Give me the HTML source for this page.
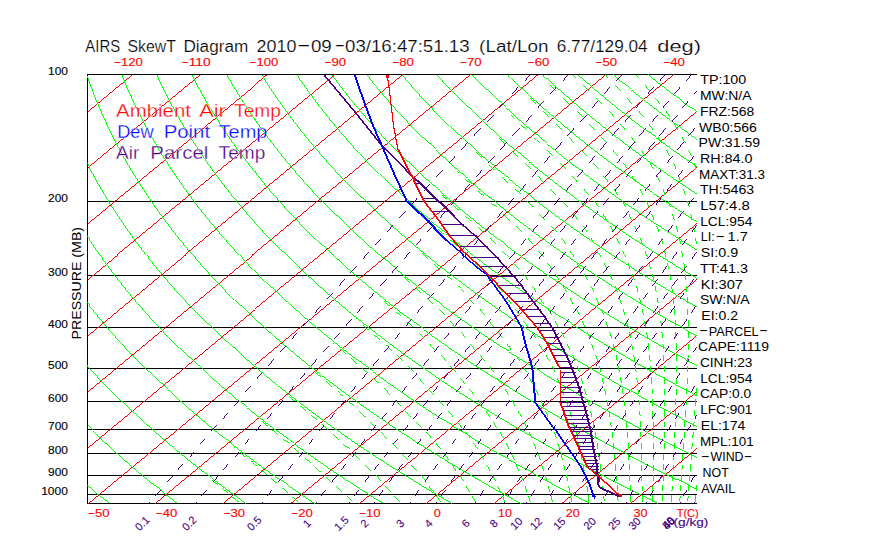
<!DOCTYPE html>
<html><head><meta charset="utf-8"><title>AIRS SkewT Diagram</title>
<style>html,body{margin:0;padding:0;background:#fff}svg{display:block}</style></head><body>

<svg width="870" height="560" viewBox="0 0 870 560">
<rect width="870" height="560" fill="#fff"/>
<g transform="translate(0.5,0.5)" id="bg">
<g shape-rendering="crispEdges" fill="none">
<path stroke="#000000" stroke-width="1" d="M86.5 201 H696.5 M86.5 275 H696.5 M86.5 327 H696.5 M86.5 368 H696.5 M86.5 401 H696.5 M86.5 429 H696.5 M86.5 453 H696.5 M86.5 475 H696.5 M86.5 494 H696.5 M86.5 74 H696.5 M86.5 503 H696.5 M87 73.5 V503.5"/>
<path stroke="#ff0000" stroke-width="0.78" d="M87.0 110.7 L131.3 74.0 M87.0 166.7 L199.1 74.0 M87.0 222.8 L266.8 74.0 M87.0 278.8 L334.6 74.0 M87.0 334.9 L402.3 74.0 M87.0 390.9 L470.1 74.0 M87.0 447.0 L537.8 74.0 M87.0 503.0 L605.6 74.0 M154.8 503.0 L673.3 74.0 M222.5 503.0 L696.4 111.0 M290.2 503.0 L696.4 167.0 M358.0 503.0 L696.4 223.1 M425.8 503.0 L696.4 279.1 M493.5 503.0 L696.4 335.1 M561.2 503.0 L696.4 391.2 M629.0 503.0 L696.4 447.2"/>
<path stroke="#00ff00" stroke-width="0.72" d="M121.9 401.0 L115.9 395.0 L109.9 389.0 M154.8 377.0 L148.6 371.0 L142.7 365.0 M185.3 353.0 L179.2 347.0 L173.2 341.0 L167.3 335.0 M213.9 329.0 L207.8 323.0 L201.8 317.0 L195.9 311.0 M240.5 305.0 L234.4 299.0 L228.4 293.0 M265.3 281.0 L259.3 275.0 L253.3 269.0 M294.7 263.0 L288.6 257.0 L282.5 251.0 L276.7 245.0 M316.3 239.0 L310.3 233.0 L304.3 227.0 M342.6 221.0 L336.5 215.0 L330.6 209.0 M367.6 203.0 L361.5 197.0 L355.5 191.0 L349.6 185.0 M385.2 179.0 L379.1 173.0 L373.2 167.0 M407.6 161.0 L401.6 155.0 L395.7 149.0 M429.0 143.0 L422.9 137.0 L417.0 131.0 M449.2 125.0 L443.2 119.0 L437.3 113.0 M474.6 113.0 L468.5 107.0 L462.5 101.0 L456.6 95.0 M492.8 95.0 L486.7 89.0 L480.8 83.0 M580.6 77.0 L577.6 74.0 M378.0 477.5 L375.0 474.5 M370.5 470.0 L367.4 467.0 M349.1 449.5 L346.0 446.5 M394.1 445.5 L391.1 442.5 M386.6 438.0 L383.6 435.0 M372.6 424.0 L369.6 421.0 M408.2 413.0 L405.3 410.0 M390.0 394.0 L387.0 391.0 M413.4 371.5 L410.4 368.5 L407.4 365.5 M432.4 346.0 L429.5 343.0 M444.2 314.5 L441.1 311.5 M463.1 291.5 L460.1 288.5 M480.4 268.0 L477.4 265.0 M521.3 231.5 L518.3 228.5 L515.2 225.5 M533.0 206.5 L529.9 203.5 L526.9 200.5 M553.2 191.0 L550.2 188.0 M543.2 181.0 L540.2 178.0 L537.6 175.5 M562.7 165.5 L559.7 162.5 M552.7 155.5 L549.7 152.5 L546.7 149.5 M526.8 130.0 L523.7 127.0 L520.7 124.0 M513.6 117.0 L510.6 114.0 M573.9 142.5 L571.0 139.5 L568.0 136.5 M561.2 129.5 L558.2 126.5 L555.3 123.5 M548.3 116.5 L545.3 113.5 L542.3 110.5 M535.3 103.5 L532.3 100.5 L529.3 97.5 M568.9 103.0 L565.9 100.0 L563.0 97.0 M556.0 90.0 L553.0 87.0 L550.0 84.0 M576.4 77.0 L573.4 74.0"/>
<path stroke="#00ff00" stroke-width="0.75" d="M118.7 455.0 L112.1 449.0 L105.5 443.0 L99.1 437.0 L92.9 431.0 L87.0 425.3 M147.5 425.0 L140.9 419.0 L134.5 413.0 L128.1 407.0 L121.9 401.0 M109.9 389.0 L104.1 383.0 L98.4 377.0 L92.8 371.0 L87.3 365.0 M180.5 401.0 L173.9 395.0 L167.4 389.0 L161.0 383.0 L154.8 377.0 M142.7 365.0 L136.8 359.0 L131.0 353.0 L125.4 347.0 L119.9 341.0 L114.6 335.0 M211.1 377.0 L204.5 371.0 L198.0 365.0 L191.6 359.0 L185.3 353.0 M167.3 335.0 L161.6 329.0 L156.0 323.0 L150.4 317.0 L145.0 311.0 M239.6 353.0 L233.0 347.0 L226.5 341.0 L220.1 335.0 L213.9 329.0 M195.9 311.0 L190.1 305.0 L184.5 299.0 L179.0 293.0 L173.6 287.0 M266.2 329.0 L259.6 323.0 L253.1 317.0 L246.7 311.0 L240.5 305.0 M228.4 293.0 L222.6 287.0 L216.8 281.0 L211.2 275.0 L205.7 269.0 M290.9 305.0 L284.3 299.0 L277.8 293.0 L271.5 287.0 L265.3 281.0 M253.3 269.0 L247.5 263.0 L241.8 257.0 L236.3 251.0 L230.8 245.0 M320.5 287.0 L313.8 281.0 L307.3 275.0 L300.9 269.0 L294.7 263.0 M276.7 245.0 L270.9 239.0 L265.3 233.0 L259.7 227.0 L254.4 221.0 M341.8 263.0 L335.3 257.0 L328.8 251.0 L322.5 245.0 L316.3 239.0 M304.3 227.0 L298.5 221.0 L292.8 215.0 L287.2 209.0 L281.8 203.0 M368.3 245.0 L361.7 239.0 L355.2 233.0 L348.9 227.0 L342.6 221.0 M330.6 209.0 L324.7 203.0 L319.0 197.0 L313.4 191.0 L307.9 185.0 L302.5 179.0 M393.4 227.0 L386.8 221.0 L380.3 215.0 L373.9 209.0 L367.6 203.0 M349.6 185.0 L343.8 179.0 L338.2 173.0 L332.7 167.0 L327.3 161.0 M417.2 209.0 L410.5 203.0 L404.0 197.0 L397.6 191.0 L391.3 185.0 L385.2 179.0 M373.2 167.0 L367.4 161.0 L361.8 155.0 L356.2 149.0 L350.8 143.0 M439.7 191.0 L433.0 185.0 L426.5 179.0 L420.1 173.0 L413.8 167.0 L407.6 161.0 M395.7 149.0 L389.9 143.0 L384.2 137.0 L378.7 131.0 L373.3 125.0 M461.0 173.0 L454.4 167.0 L447.8 161.0 L441.4 155.0 L435.1 149.0 L429.0 143.0 M417.0 131.0 L411.2 125.0 L405.6 119.0 L400.0 113.0 L394.6 107.0 M481.2 155.0 L474.6 149.0 L468.0 143.0 L461.6 137.0 L455.4 131.0 L449.2 125.0 M437.3 113.0 L431.5 107.0 L425.9 101.0 L420.4 95.0 L415.0 89.0 M500.3 137.0 L493.7 131.0 L487.2 125.0 L480.8 119.0 L474.6 113.0 M456.6 95.0 L450.8 89.0 L445.2 83.0 L439.7 77.0 M518.4 119.0 L511.8 113.0 L505.4 107.0 L499.0 101.0 L492.8 95.0 M480.8 83.0 L474.9 77.0 M542.3 107.0 L535.6 101.0 L529.1 95.0 L522.6 89.0 L516.3 83.0 L510.2 77.0 L507.5 74.0 M558.5 89.0 L551.9 83.0 L545.4 77.0 L542.5 74.0 M615.8 77.0 L612.7 74.0 M651.1 77.0 L647.7 74.0 M294.2 498.5 L291.4 496.0 M351.8 501.0 L348.7 498.0 L346.1 495.5 M341.8 491.5 L338.6 488.5 L335.9 486.0 M331.5 482.0 L328.2 479.0 M320.6 472.0 L317.4 469.0 L314.7 466.5 M310.3 462.5 L306.9 459.5 M390.8 491.0 L388.0 488.0 L385.2 485.0 M380.9 480.5 L378.0 477.5 M367.4 467.0 L364.3 464.0 M359.6 459.5 L356.4 456.5 L353.7 454.0 M346.0 446.5 L342.9 443.5 M338.1 439.0 L334.9 436.0 L332.1 433.5 M407.3 459.5 L404.5 456.5 L401.7 453.5 M397.0 448.5 L394.1 445.5 M383.6 435.0 L380.5 432.0 M375.5 427.0 L372.6 424.0 M365.0 416.5 L361.9 413.5 L358.7 410.5 M353.8 406.0 L350.5 403.0 L347.8 400.5 M421.6 427.0 L418.8 424.0 L416.0 421.0 M411.2 416.0 L408.2 413.0 M400.6 405.0 L397.8 402.0 L394.9 399.0 M387.0 391.0 L383.9 388.0 M378.6 383.0 L375.4 380.0 L372.7 377.5 M367.8 373.0 L364.4 370.0 M441.4 402.0 L438.7 399.0 M434.1 394.0 L431.3 391.0 L428.4 388.0 M424.1 383.0 L421.4 380.0 L418.6 377.0 M402.3 360.5 L399.2 357.5 L396.5 355.0 M391.1 350.0 L387.8 347.0 L385.0 344.5 M455.0 371.5 L452.3 368.5 M443.1 357.5 L440.4 354.5 M435.3 349.0 L432.4 346.0 M423.9 337.5 L420.8 334.5 L418.2 332.0 M412.9 327.0 L409.6 324.0 L406.4 321.0 M400.8 316.0 L397.5 313.0 M455.4 326.0 L452.5 323.0 L449.6 320.0 M441.1 311.5 L438.5 309.0 M432.7 303.5 L429.5 300.5 L426.8 298.0 M420.8 292.5 L417.5 289.5 L415.2 287.5 M474.2 303.0 L471.4 300.0 L468.5 297.0 M460.1 288.5 L457.0 285.5 M451.2 280.0 L448.0 277.0 L445.3 274.5 M439.4 269.0 L436.1 266.0 L433.3 263.5 M427.8 258.5 L424.4 255.5 M491.5 279.5 L488.7 276.5 L485.8 273.5 M477.4 265.0 L474.3 262.0 M468.0 256.0 L464.8 253.0 L462.1 250.5 M431.7 223.5 L428.4 220.5 M507.7 256.0 L504.9 253.0 L502.0 250.0 M495.9 244.0 L492.7 241.0 L489.5 238.0 M483.6 232.5 L480.3 229.5 L477.5 227.0 M470.9 221.0 L467.6 218.0 M458.7 210.0 L455.3 207.0 L452.6 204.5 M446.0 198.5 L442.8 195.5 L441.7 194.5 M532.7 243.5 L529.9 240.5 L527.1 237.5 M509.0 219.5 L505.8 216.5 L502.6 213.5 M496.2 207.5 L493.0 204.5 L490.3 202.0 M483.7 196.0 L480.4 193.0 L477.7 190.5 M471.2 184.5 L468.0 181.5 L464.7 178.5 M458.4 172.5 L456.8 171.0 M545.1 219.0 L542.3 216.0 L539.4 213.0 M520.1 194.0 L517.0 191.0 L514.3 188.5 M507.4 182.0 L504.2 179.0 L501.5 176.5 M494.6 170.0 L491.4 167.0 L488.8 164.5 M481.9 158.0 L478.8 155.0 L475.6 152.0 M564.9 203.5 L562.1 200.5 M556.1 194.0 L553.2 191.0 M530.4 168.5 L527.3 165.5 L524.7 163.0 M517.9 156.5 L514.7 153.5 L511.6 150.5 M504.8 144.0 L501.7 141.0 L498.6 138.0 M577.4 181.0 L574.6 178.0 L571.8 175.0 M565.6 168.5 L562.7 165.5 M539.5 142.5 L536.4 139.5 L533.9 137.0 M586.3 155.5 L583.5 152.5 L580.7 149.5 M606.0 142.5 L603.3 139.5 L600.5 136.5 M594.2 129.5 L591.5 126.5 L588.7 123.5 M582.0 116.5 L579.1 113.5 L576.2 110.5 M611.1 113.5 L608.4 110.5 M601.5 103.0 L598.6 100.0 L595.8 97.0 M589.1 90.0 L586.2 87.0 L583.2 84.0 M620.5 90.0 L617.7 87.0 L615.0 84.0 M608.4 77.0 L605.5 74.0"/>
<path stroke="#00ff00" stroke-width="0.78" d="M108.1 503.0 L101.0 497.0 L94.1 491.0 L87.2 485.0 L87.0 484.8 M154.0 485.0 L146.7 479.0 L139.5 473.0 L132.4 467.0 L125.5 461.0 L118.7 455.0 M182.4 455.0 L175.2 449.0 L168.1 443.0 L161.1 437.0 L154.2 431.0 L147.5 425.0 M87.3 365.0 L87.0 364.6 M215.6 431.0 L208.3 425.0 L201.1 419.0 L194.1 413.0 L187.2 407.0 L180.5 401.0 M114.6 335.0 L109.3 329.0 L104.1 323.0 L99.1 317.0 L94.2 311.0 M246.3 407.0 L239.0 401.0 L231.8 395.0 L224.8 389.0 L217.9 383.0 L211.1 377.0 M145.0 311.0 L139.8 305.0 L134.6 299.0 L129.6 293.0 L124.6 287.0 M274.8 383.0 L267.5 377.0 L260.3 371.0 L253.3 365.0 L246.4 359.0 L239.6 353.0 M173.6 287.0 L168.3 281.0 L163.2 275.0 L158.1 269.0 L153.2 263.0 M301.2 359.0 L293.9 353.0 L286.8 347.0 L279.8 341.0 L272.9 335.0 L266.2 329.0 M205.7 269.0 L200.4 263.0 L195.1 257.0 L190.0 251.0 L185.0 245.0 L180.1 239.0 M325.7 335.0 L318.5 329.0 L311.4 323.0 L304.4 317.0 L297.6 311.0 L290.9 305.0 M230.8 245.0 L225.5 239.0 L220.3 233.0 L215.2 227.0 L210.2 221.0 M355.7 317.0 L348.4 311.0 L341.2 305.0 L334.2 299.0 L327.3 293.0 L320.5 287.0 M254.4 221.0 L249.1 215.0 L243.9 209.0 L238.9 203.0 L233.9 197.0 M376.7 293.0 L369.5 287.0 L362.3 281.0 L355.4 275.0 L348.5 269.0 L341.8 263.0 M281.8 203.0 L276.5 197.0 L271.2 191.0 L266.1 185.0 L261.2 179.0 M403.4 275.0 L396.1 269.0 L389.0 263.0 L382.0 257.0 L375.1 251.0 L368.3 245.0 M302.5 179.0 L297.2 173.0 L292.1 167.0 L287.1 161.0 L282.2 155.0 M428.7 257.0 L421.4 251.0 L414.2 245.0 L407.1 239.0 L400.2 233.0 L393.4 227.0 M327.3 161.0 L322.0 155.0 L316.8 149.0 L311.8 143.0 L306.8 137.0 M452.5 239.0 L445.2 233.0 L438.0 227.0 L430.9 221.0 L424.0 215.0 L417.2 209.0 M350.8 143.0 L345.5 137.0 L340.3 131.0 L335.3 125.0 L330.3 119.0 M475.1 221.0 L467.7 215.0 L460.5 209.0 L453.5 203.0 L446.5 197.0 L439.7 191.0 M373.3 125.0 L368.0 119.0 L362.8 113.0 L357.7 107.0 L352.7 101.0 M496.4 203.0 L489.0 197.0 L481.8 191.0 L474.8 185.0 L467.8 179.0 L461.0 173.0 M394.6 107.0 L389.3 101.0 L384.1 95.0 L379.1 89.0 L374.1 83.0 M516.5 185.0 L509.2 179.0 L502.0 173.0 L494.9 167.0 L488.0 161.0 L481.2 155.0 M415.0 89.0 L409.7 83.0 L404.5 77.0 M535.5 167.0 L528.2 161.0 L521.0 155.0 L514.0 149.0 L507.1 143.0 L500.3 137.0 M553.4 149.0 L546.2 143.0 L539.0 137.0 L532.0 131.0 L525.2 125.0 L518.4 119.0 M474.9 77.0 L472.4 74.0 M577.7 137.0 L570.4 131.0 L563.2 125.0 L556.1 119.0 L549.1 113.0 L542.3 107.0 M593.7 119.0 L586.4 113.0 L579.2 107.0 L572.2 101.0 L565.3 95.0 L558.5 89.0 M608.8 101.0 L601.5 95.0 L594.4 89.0 L587.5 83.0 L580.6 77.0 M630.3 89.0 L623.0 83.0 L615.8 77.0 M238.0 501.5 L234.3 498.5 L231.9 496.5 M227.6 493.0 L224.0 490.0 L221.5 488.0 M217.3 484.5 L213.6 481.5 L211.2 479.5 M206.9 476.0 L206.3 475.5 M297.6 501.5 L294.2 498.5 M287.0 492.0 L283.6 489.0 L281.3 487.0 M276.7 483.0 L273.2 480.0 L270.9 478.0 M266.2 474.0 L262.6 471.0 L260.2 469.0 M256.0 465.5 L252.4 462.5 L250.0 460.5 M245.2 456.5 L241.6 453.5 L239.1 451.5 M234.3 447.5 L233.1 446.5 M328.2 479.0 L325.4 476.5 M306.9 459.5 L304.1 457.0 M299.5 453.0 L296.1 450.0 L293.2 447.5 M288.5 443.5 L285.0 440.5 L282.6 438.5 M277.9 434.5 L274.3 431.5 L271.9 429.5 M267.1 425.5 L263.6 422.5 L261.2 420.5 M399.6 501.0 L397.0 498.0 L394.4 495.0 M327.1 429.0 L323.8 426.0 L321.5 424.0 M316.3 419.5 L312.9 416.5 L310.5 414.5 M305.3 410.0 L301.8 407.0 L299.4 405.0 M294.7 401.0 L291.2 398.0 L288.8 396.0 M422.8 477.5 L420.3 474.5 M416.5 470.0 L413.9 467.0 L411.3 464.0 M342.7 396.0 L339.3 393.0 L337.0 391.0 M331.8 386.5 L328.4 383.5 L325.5 381.0 M320.2 376.5 L316.7 373.5 L314.4 371.5 M309.1 367.0 L308.6 366.5 M437.6 445.5 L435.1 442.5 M430.9 437.5 L428.3 434.5 L425.6 431.5 M364.4 370.0 L361.6 367.5 M356.5 363.0 L353.1 360.0 L350.2 357.5 M345.0 353.0 L341.6 350.0 L339.3 348.0 M333.5 343.0 L332.3 342.0 M453.3 416.0 L450.8 413.0 L448.3 410.0 M444.0 405.0 L441.4 402.0 M379.5 339.5 L376.1 336.5 L373.8 334.5 M368.1 329.5 L364.7 326.5 L362.4 324.5 M356.7 319.5 L355.0 318.0 M465.0 383.0 L462.5 380.0 L459.9 377.0 M445.7 360.5 L443.1 357.5 M397.5 313.0 L395.3 311.0 M389.6 306.0 L386.2 303.0 L383.4 300.5 M377.7 295.5 L377.2 295.0 M484.4 360.5 L481.9 357.5 L479.4 354.5 M465.6 337.5 L463.0 334.5 L460.4 331.5 M409.1 282.0 L405.7 279.0 L403.5 277.0 M484.4 314.5 L481.8 311.5 L479.2 308.5 M424.4 255.5 L421.6 253.0 M502.1 291.5 L499.6 288.5 L496.9 285.5 M456.0 245.0 L452.7 242.0 L449.9 239.5 M443.6 234.0 L440.2 231.0 L437.9 229.0 M518.4 268.0 L515.8 265.0 L513.2 262.0 M467.6 218.0 L464.8 215.5 M556.2 231.5 L553.7 228.5 L551.0 225.5 M567.5 206.5 L564.9 203.5 M588.7 194.0 L586.2 191.0 L583.6 188.0 M598.0 168.5 L595.4 165.5 L592.7 162.5 M617.1 155.5 L614.6 152.5 L612.1 149.5 M624.8 129.5 L622.3 126.5 L619.8 123.5 M613.7 116.5 L611.1 113.5 M632.0 103.0 L629.4 100.0 L626.8 97.0 M649.8 90.0 L647.3 87.0 L644.8 84.0 M638.7 77.0 L636.0 74.0"/>
<path stroke="#00ff00" stroke-width="0.81" d="M176.8 503.0 L169.1 497.0 L161.5 491.0 L154.0 485.0 M228.9 491.0 L220.8 485.0 L212.8 479.0 L205.0 473.0 L197.4 467.0 L189.8 461.0 L182.4 455.0 M262.3 467.0 L254.1 461.0 L246.2 455.0 L238.3 449.0 L230.6 443.0 L223.0 437.0 L215.6 431.0 M94.2 311.0 L89.4 305.0 L87.0 301.9 M285.0 437.0 L277.0 431.0 L269.1 425.0 L261.4 419.0 L253.8 413.0 L246.3 407.0 M124.6 287.0 L119.8 281.0 L115.1 275.0 L110.6 269.0 L106.1 263.0 M313.4 413.0 L305.4 407.0 L297.6 401.0 L289.8 395.0 L282.3 389.0 L274.8 383.0 M153.2 263.0 L148.4 257.0 L143.7 251.0 L139.1 245.0 L134.7 239.0 M347.8 395.0 L339.7 389.0 L331.7 383.0 L323.9 377.0 L316.2 371.0 L308.6 365.0 L301.2 359.0 M180.1 239.0 L175.3 233.0 L170.6 227.0 L166.1 221.0 L161.6 215.0 M372.1 371.0 L364.0 365.0 L356.0 359.0 L348.2 353.0 L340.6 347.0 L333.1 341.0 L325.7 335.0 M210.2 221.0 L205.3 215.0 L200.6 209.0 L195.9 203.0 L191.4 197.0 M394.4 347.0 L386.4 341.0 L378.5 335.0 L370.8 329.0 L363.2 323.0 L355.7 317.0 M233.9 197.0 L229.1 191.0 L224.4 185.0 L219.8 179.0 L215.3 173.0 M423.1 329.0 L415.0 323.0 L407.0 317.0 L399.2 311.0 L391.6 305.0 L384.1 299.0 L376.7 293.0 M261.2 179.0 L256.3 173.0 L251.5 167.0 L246.9 161.0 L242.4 155.0 M450.1 311.0 L441.9 305.0 L434.0 299.0 L426.1 293.0 L418.4 287.0 L410.9 281.0 L403.4 275.0 M282.2 155.0 L277.4 149.0 L272.7 143.0 L268.1 137.0 L263.7 131.0 M467.4 287.0 L459.4 281.0 L451.5 275.0 L443.7 269.0 L436.1 263.0 L428.7 257.0 M306.8 137.0 L302.0 131.0 L297.3 125.0 L292.7 119.0 L288.2 113.0 M491.3 269.0 L483.3 263.0 L475.4 257.0 L467.6 251.0 L460.0 245.0 L452.5 239.0 M330.3 119.0 L325.5 113.0 L320.8 107.0 L316.2 101.0 L311.7 95.0 M513.9 251.0 L505.9 245.0 L498.0 239.0 L490.2 233.0 L482.6 227.0 L475.1 221.0 M352.7 101.0 L347.9 95.0 L343.2 89.0 L338.5 83.0 L334.0 77.0 M535.2 233.0 L527.1 227.0 L519.2 221.0 L511.5 215.0 L503.9 209.0 L496.4 203.0 M374.1 83.0 L369.3 77.0 M555.2 215.0 L547.2 209.0 L539.3 203.0 L531.6 197.0 L524.0 191.0 L516.5 185.0 M404.5 77.0 L402.3 74.0 M574.1 197.0 L566.1 191.0 L558.2 185.0 L550.5 179.0 L542.9 173.0 L535.5 167.0 M439.7 77.0 L437.3 74.0 M599.9 185.0 L591.8 179.0 L583.9 173.0 L576.0 167.0 L568.4 161.0 L560.8 155.0 L553.4 149.0 M616.6 167.0 L608.5 161.0 L600.6 155.0 L592.9 149.0 L585.2 143.0 L577.7 137.0 M632.3 149.0 L624.3 143.0 L616.4 137.0 L608.7 131.0 L601.1 125.0 L593.7 119.0 M655.1 137.0 L647.0 131.0 L639.1 125.0 L631.3 119.0 L623.7 113.0 L616.1 107.0 L608.8 101.0 M668.9 119.0 L660.9 113.0 L653.1 107.0 L645.3 101.0 L637.8 95.0 L630.3 89.0 M690.0 107.0 L681.9 101.0 L674.0 95.0 L666.2 89.0 L658.6 83.0 L651.1 77.0 M433.3 491.0 L431.0 488.0 L428.7 485.0 M425.2 480.5 L422.8 477.5 M448.5 459.5 L446.3 456.5 L444.0 453.5 M440.0 448.5 L437.6 445.5 M462.0 427.0 L459.7 424.0 L457.3 421.0 M480.0 402.0 L477.8 399.0 M473.9 394.0 L471.6 391.0 L469.2 388.0 M452.3 368.5 L449.9 365.5 M493.0 371.5 L490.7 368.5 L488.4 365.5 M474.8 349.0 L472.5 346.0 L470.1 343.0 M508.8 346.0 L506.5 343.0 M502.2 337.5 L499.8 334.5 L497.4 331.5 M493.5 326.0 L491.2 323.0 L488.9 320.0 M511.1 303.0 L508.9 300.0 L506.6 297.0 M527.5 279.5 L525.3 276.5 L522.9 273.5 M543.0 256.0 L540.7 253.0 L538.3 250.0 M563.4 240.5 L561.1 237.5 M577.9 219.0 L575.5 216.0 L573.1 213.0 M596.1 203.5 L593.9 200.5 M608.2 181.0 L605.9 178.0 L603.4 175.0 M627.1 168.5 L624.9 165.5 L622.6 162.5 M635.2 142.5 L632.8 139.5 L630.4 136.5 M643.0 116.5 L640.6 113.5 L638.2 110.5 M660.0 103.0 L657.7 100.0 L655.4 97.0"/>
<path stroke="#00ff00" stroke-width="0.84" d="M245.5 503.0 L237.1 497.0 L228.9 491.0 M314.2 503.0 L305.2 497.0 L296.3 491.0 L287.6 485.0 L279.0 479.0 L270.6 473.0 L262.3 467.0 M345.2 479.0 L336.1 473.0 L327.2 467.0 L318.5 461.0 L309.9 455.0 L301.4 449.0 L293.1 443.0 L285.0 437.0 M106.1 263.0 L101.7 257.0 L97.5 251.0 L93.3 245.0 L89.3 239.0 M373.6 455.0 L364.5 449.0 L355.6 443.0 L346.9 437.0 L338.3 431.0 L329.9 425.0 L321.6 419.0 L313.4 413.0 M134.7 239.0 L130.3 233.0 L126.1 227.0 L121.9 221.0 L117.9 215.0 M399.7 431.0 L390.7 425.0 L381.8 419.0 L373.1 413.0 L364.5 407.0 L356.1 401.0 L347.8 395.0 M161.6 215.0 L157.3 209.0 L153.0 203.0 L148.9 197.0 L144.9 191.0 M423.6 407.0 L414.6 401.0 L405.8 395.0 L397.2 389.0 L388.6 383.0 L380.3 377.0 L372.1 371.0 M191.4 197.0 L187.0 191.0 L182.7 185.0 L178.5 179.0 L174.4 173.0 L170.4 167.0 M454.6 389.0 L445.6 383.0 L436.7 377.0 L427.9 371.0 L419.3 365.0 L410.9 359.0 L402.5 353.0 L394.4 347.0 M215.3 173.0 L211.0 167.0 L206.7 161.0 L202.6 155.0 L198.5 149.0 M474.6 365.0 L465.7 359.0 L456.8 353.0 L448.2 347.0 L439.7 341.0 L431.3 335.0 L423.1 329.0 M242.4 155.0 L237.9 149.0 L233.6 143.0 L229.4 137.0 L225.3 131.0 L221.3 125.0 M502.0 347.0 L492.9 341.0 L484.1 335.0 L475.3 329.0 L466.8 323.0 L458.4 317.0 L450.1 311.0 M263.7 131.0 L259.3 125.0 L255.1 119.0 L251.0 113.0 L246.9 107.0 M527.6 329.0 L518.6 323.0 L509.7 317.0 L500.9 311.0 L492.3 305.0 L483.9 299.0 L475.5 293.0 L467.4 287.0 M288.2 113.0 L283.9 107.0 L279.6 101.0 L275.4 95.0 L271.4 89.0 M551.8 311.0 L542.7 305.0 L533.7 299.0 L525.0 293.0 L516.3 287.0 L507.9 281.0 L499.5 275.0 L491.3 269.0 M311.7 95.0 L307.3 89.0 L303.0 83.0 L298.8 77.0 M574.4 293.0 L565.3 287.0 L556.4 281.0 L547.6 275.0 L538.9 269.0 L530.5 263.0 L522.1 257.0 L513.9 251.0 M595.6 275.0 L586.5 269.0 L577.6 263.0 L568.8 257.0 L560.2 251.0 L551.7 245.0 L543.4 239.0 L535.2 233.0 M369.3 77.0 L367.2 74.0 M615.5 257.0 L606.5 251.0 L597.5 245.0 L588.8 239.0 L580.2 233.0 L571.7 227.0 L563.4 221.0 L555.2 215.0 M634.2 239.0 L625.2 233.0 L616.3 227.0 L607.5 221.0 L598.9 215.0 L590.5 209.0 L582.2 203.0 L574.1 197.0 M651.7 221.0 L642.7 215.0 L633.8 209.0 L625.1 203.0 L616.6 197.0 L608.2 191.0 L599.9 185.0 M677.2 209.0 L668.1 203.0 L659.1 197.0 L650.3 191.0 L641.7 185.0 L633.2 179.0 L624.8 173.0 L616.6 167.0 M692.4 191.0 L683.4 185.0 L674.5 179.0 L665.8 173.0 L657.2 167.0 L648.7 161.0 L640.4 155.0 L632.3 149.0 M696.4 166.1 L688.9 161.0 L680.2 155.0 L671.7 149.0 L663.4 143.0 L655.1 137.0 M696.4 138.8 L693.8 137.0 L685.4 131.0 L677.1 125.0 L668.9 119.0 M696.4 111.7 L690.0 107.0 M440.5 501.0 L438.4 498.0 L436.2 495.0 M461.1 477.5 L459.1 474.5 M456.1 470.0 L454.0 467.0 L451.8 464.0 M475.0 445.5 L473.0 442.5 M469.6 437.5 L467.5 434.5 L465.3 431.5 M489.8 416.0 L487.8 413.0 L485.7 410.0 M482.2 405.0 L480.0 402.0 M501.2 383.0 L499.2 380.0 L497.0 377.0 M518.9 360.5 L516.9 357.5 L514.9 354.5 M511.0 349.0 L508.8 346.0 M533.5 334.5 L531.5 331.5 M527.7 326.0 L525.5 323.0 L523.3 320.0 M519.1 314.5 L517.1 311.5 L515.1 308.5 M543.5 303.0 L541.4 300.0 L539.2 297.0 M533.9 288.5 L531.9 285.5 M551.5 268.0 L549.5 265.0 L547.4 262.0 M565.5 243.5 L563.4 240.5 M586.8 231.5 L584.8 228.5 L582.7 225.5 M598.3 206.5 L596.1 203.5 M617.6 194.0 L615.6 191.0 L613.5 188.0 M633.7 178.0 L631.7 175.0 M644.7 155.5 L642.6 152.5 L640.5 149.5 M659.5 139.5 L657.4 136.5 M652.6 129.5 L650.5 126.5 L648.3 123.5 M669.5 116.5 L667.5 113.5 L665.4 110.5"/>
<path stroke="#00ff00" stroke-width="0.87" d="M382.9 503.0 L373.2 497.0 L363.7 491.0 L354.4 485.0 L345.2 479.0 M89.3 239.0 L87.0 235.6 M451.6 503.0 L441.3 497.0 L431.1 491.0 L421.1 485.0 L411.3 479.0 L401.6 473.0 L392.1 467.0 L382.8 461.0 L373.6 455.0 M117.9 215.0 L113.9 209.0 L110.1 203.0 L106.4 197.0 L102.8 191.0 L99.2 185.0 M477.5 479.0 L467.2 473.0 L457.1 467.0 L447.1 461.0 L437.3 455.0 L427.7 449.0 L418.2 443.0 L408.9 437.0 L399.7 431.0 M144.9 191.0 L141.0 185.0 L137.2 179.0 L133.4 173.0 L129.8 167.0 L126.3 161.0 M501.0 455.0 L490.8 449.0 L480.7 443.0 L470.8 437.0 L461.0 431.0 L451.5 425.0 L442.0 419.0 L432.7 413.0 L423.6 407.0 M170.4 167.0 L166.5 161.0 L162.7 155.0 L159.1 149.0 L155.5 143.0 M532.7 437.0 L522.4 431.0 L512.2 425.0 L502.2 419.0 L492.4 413.0 L482.7 407.0 L473.2 401.0 L463.8 395.0 L454.6 389.0 M198.5 149.0 L194.6 143.0 L190.7 137.0 L187.0 131.0 L183.4 125.0 L179.8 119.0 M552.1 413.0 L541.8 407.0 L531.7 401.0 L521.8 395.0 L512.1 389.0 L502.5 383.0 L493.0 377.0 L483.8 371.0 L474.6 365.0 M221.3 125.0 L217.5 119.0 L213.7 113.0 L210.0 107.0 L206.4 101.0 M579.8 395.0 L569.5 389.0 L559.4 383.0 L549.4 377.0 L539.6 371.0 L530.0 365.0 L520.5 359.0 L511.1 353.0 L502.0 347.0 M246.9 107.0 L243.0 101.0 L239.2 95.0 L235.5 89.0 L231.9 83.0 L228.4 77.0 M605.8 377.0 L595.5 371.0 L585.3 365.0 L575.3 359.0 L565.4 353.0 L555.8 347.0 L546.2 341.0 L536.9 335.0 L527.6 329.0 M271.4 89.0 L267.4 83.0 L263.6 77.0 M619.7 353.0 L609.5 347.0 L599.5 341.0 L589.6 335.0 L579.9 329.0 L570.4 323.0 L561.0 317.0 L551.8 311.0 M298.8 77.0 L297.1 74.0 M642.4 335.0 L632.2 329.0 L622.2 323.0 L612.3 317.0 L602.6 311.0 L593.0 305.0 L583.6 299.0 L574.4 293.0 M334.0 77.0 L332.1 74.0 M663.6 317.0 L653.4 311.0 L643.4 305.0 L633.5 299.0 L623.8 293.0 L614.3 287.0 L604.9 281.0 L595.6 275.0 M683.4 299.0 L673.2 293.0 L663.2 287.0 L653.4 281.0 L643.7 275.0 L634.1 269.0 L624.8 263.0 L615.5 257.0 M696.4 277.8 L691.7 275.0 L681.7 269.0 L671.9 263.0 L662.2 257.0 L652.7 251.0 L643.4 245.0 L634.2 239.0 M696.4 249.4 L689.2 245.0 L679.6 239.0 L670.1 233.0 L660.8 227.0 L651.7 221.0 M696.4 221.4 L695.8 221.0 L686.4 215.0 L677.2 209.0 M696.4 193.6 L692.4 191.0 M469.5 491.0 L467.7 488.0 L465.9 485.0 M463.0 480.5 L461.1 477.5 M483.8 459.5 L482.0 456.5 L480.2 453.5 M477.0 448.5 L475.0 445.5 M496.7 427.0 L494.9 424.0 L493.0 421.0 M513.3 402.0 L511.5 399.0 M508.5 394.0 L506.5 391.0 L504.6 388.0 M525.9 371.5 L524.1 368.5 L522.2 365.5 M542.5 349.0 L540.7 346.0 L538.9 343.0 M535.4 337.5 L533.5 334.5 M556.3 323.0 L554.6 320.0 M551.2 314.5 L549.2 311.5 L547.3 308.5 M535.8 291.5 L533.9 288.5 M571.3 300.0 L569.5 297.0 M566.2 291.5 L564.3 288.5 L562.3 285.5 M556.7 276.5 L555.0 273.5 M585.3 276.5 L583.5 273.5 M580.2 268.0 L578.3 265.0 M573.5 256.0 L571.7 253.0 L569.9 250.0 M598.7 253.0 L596.9 250.0 M606.5 219.0 L604.7 216.0 L602.8 213.0 M623.5 203.5 L621.7 200.5 M635.6 181.0 L633.7 178.0 M652.9 168.5 L651.2 165.5 L649.3 162.5 M667.5 152.5 L665.8 149.5 M661.4 142.5 L659.5 139.5 M677.6 129.5 L675.8 126.5 L674.0 123.5"/>
<path stroke="#00ff00" stroke-width="0.90" d="M99.2 185.0 L95.8 179.0 L92.5 173.0 L89.3 167.0 L87.0 162.6 M520.3 503.0 L509.3 497.0 L498.6 491.0 L487.9 485.0 L477.5 479.0 M126.3 161.0 L122.9 155.0 L119.6 149.0 L116.4 143.0 L113.3 137.0 L110.3 131.0 M589.0 503.0 L577.4 497.0 L566.0 491.0 L554.7 485.0 L543.6 479.0 L532.7 473.0 L522.0 467.0 L511.4 461.0 L501.0 455.0 M155.5 143.0 L152.0 137.0 L148.7 131.0 L145.4 125.0 L142.2 119.0 L139.1 113.0 M633.4 491.0 L621.5 485.0 L609.8 479.0 L598.3 473.0 L586.9 467.0 L575.7 461.0 L564.7 455.0 L553.9 449.0 L543.2 443.0 L532.7 437.0 M179.8 119.0 L176.4 113.0 L173.1 107.0 L169.9 101.0 L166.7 95.0 L163.7 89.0 M663.8 473.0 L651.8 467.0 L640.1 461.0 L628.5 455.0 L617.0 449.0 L605.8 443.0 L594.7 437.0 L583.8 431.0 L573.0 425.0 L562.5 419.0 L552.1 413.0 M206.4 101.0 L203.0 95.0 L199.6 89.0 L196.3 83.0 L193.1 77.0 M692.2 455.0 L680.1 449.0 L668.3 443.0 L656.6 437.0 L645.1 431.0 L633.8 425.0 L622.7 419.0 L611.7 413.0 L600.9 407.0 L590.3 401.0 L579.8 395.0 M696.4 425.9 L694.6 425.0 L682.9 419.0 L671.4 413.0 L660.0 407.0 L648.8 401.0 L637.8 395.0 L627.0 389.0 L616.3 383.0 L605.8 377.0 M263.6 77.0 L262.0 74.0 M696.4 395.3 L695.8 395.0 L684.4 389.0 L673.2 383.0 L662.2 377.0 L651.3 371.0 L640.6 365.0 L630.1 359.0 L619.7 353.0 M696.4 365.2 L696.0 365.0 L684.9 359.0 L674.0 353.0 L663.3 347.0 L652.8 341.0 L642.4 335.0 M696.4 335.7 L695.2 335.0 L684.5 329.0 L674.0 323.0 L663.6 317.0 M696.4 306.5 L693.8 305.0 L683.4 299.0 M475.2 501.0 L473.5 498.0 L471.8 495.0 M495.2 480.5 L493.7 477.5 L492.1 474.5 M489.7 470.0 L488.1 467.0 L486.4 464.0 M508.6 448.5 L507.1 445.5 L505.5 442.5 M502.8 437.5 L501.1 434.5 L499.4 431.5 M521.0 416.0 L519.5 413.0 L517.8 410.0 M515.0 405.0 L513.3 402.0 M536.7 391.0 L535.1 388.0 M532.5 383.0 L530.8 380.0 L529.1 377.0 M548.8 360.5 L547.2 357.5 L545.6 354.5 M564.2 337.5 L562.7 334.5 L561.1 331.5 M558.1 326.0 L556.3 323.0 M579.0 314.5 L577.5 311.5 L576.0 308.5 M573.0 303.0 L571.3 300.0 M558.4 279.5 L556.7 276.5 M593.3 291.5 L591.8 288.5 L590.2 285.5 M587.0 279.5 L585.3 276.5 M578.3 265.0 L576.7 262.0 M606.7 268.0 L605.2 265.0 L603.6 262.0 M600.4 256.0 L598.7 253.0 M593.8 243.5 L592.2 240.5 L590.5 237.5 M619.1 243.5 L617.6 240.5 L616.0 237.5 M611.6 228.5 L610.1 225.5 M625.2 206.5 L623.5 203.5 M642.9 194.0 L641.3 191.0 L639.7 188.0 M658.1 178.0 L656.5 175.0 M669.2 155.5 L667.5 152.5 M684.8 142.5 L683.2 139.5 L681.5 136.5"/>
<path stroke="#00ff00" stroke-width="0.93" d="M110.3 131.0 L107.4 125.0 L104.6 119.0 L101.9 113.0 L99.2 107.0 L96.7 101.0 M139.1 113.0 L136.2 107.0 L133.3 101.0 L130.5 95.0 L127.8 89.0 L125.2 83.0 L122.7 77.0 M657.7 503.0 L645.5 497.0 L633.4 491.0 M163.7 89.0 L160.8 83.0 L157.9 77.0 M696.4 488.9 L688.3 485.0 L676.0 479.0 L663.8 473.0 M193.1 77.0 L191.9 74.0 M696.4 457.1 L692.2 455.0 M228.4 77.0 L226.9 74.0 M504.7 501.0 L503.4 498.0 L502.1 495.0 M500.3 491.0 L498.9 488.0 L497.4 485.0 M518.5 470.0 L517.2 467.0 L515.9 464.0 M513.9 459.5 L512.5 456.5 L511.1 453.5 M531.2 437.5 L529.9 434.5 L528.5 431.5 M526.5 427.0 L525.0 424.0 L523.6 421.0 M546.7 413.0 L545.4 410.0 M543.3 405.0 L541.9 402.0 L540.5 399.0 M538.1 394.0 L536.7 391.0 M559.4 383.0 L558.1 380.0 L556.8 377.0 M554.3 371.5 L552.9 368.5 L551.4 365.5 M573.4 357.5 L572.2 354.5 M569.8 349.0 L568.4 346.0 L567.0 343.0 M584.4 326.0 L583.1 323.0 L581.7 320.0 M598.6 303.0 L597.3 300.0 L595.9 297.0 M612.0 279.5 L610.7 276.5 L609.3 273.5 M625.0 256.0 L623.7 253.0 L622.3 250.0 M613.0 231.5 L611.6 228.5 M640.9 240.5 L639.7 237.5 M637.0 231.5 L635.7 228.5 L634.2 225.5 M631.1 219.0 L629.8 216.0 L628.5 213.0 M653.8 219.0 L652.6 216.0 L651.3 213.0 M647.2 203.5 L645.9 200.5 M659.5 181.0 L658.1 178.0 M675.6 168.5 L674.3 165.5 L672.8 162.5 M690.8 155.5 L689.6 152.5 L688.2 149.5"/>
<path stroke="#00ff00" stroke-width="0.96" d="M96.7 101.0 L94.3 95.0 L91.9 89.0 L89.6 83.0 L87.5 77.0 M122.7 77.0 L121.7 74.0 M157.9 77.0 L156.8 74.0 M530.1 501.0 L529.1 498.0 L528.0 495.0 M526.6 491.0 L525.6 488.0 L524.5 485.0 M522.8 480.5 L521.6 477.5 L520.4 474.5 M543.3 470.0 L542.3 467.0 L541.3 464.0 M539.7 459.5 L538.7 456.5 L537.6 453.5 M535.7 448.5 L534.5 445.5 L533.3 442.5 M555.7 437.5 L554.7 434.5 L553.7 431.5 M552.1 427.0 L551.0 424.0 L549.9 421.0 M547.9 416.0 L546.7 413.0 M570.2 413.0 L569.3 410.0 M567.7 405.0 L566.6 402.0 L565.6 399.0 M563.8 394.0 L562.6 391.0 L561.4 388.0 M582.7 383.0 L581.7 380.0 L580.7 377.0 M578.8 371.5 L577.8 368.5 L576.6 365.5 M574.7 360.5 L573.4 357.5 M596.2 357.5 L595.3 354.5 M593.4 349.0 L592.4 346.0 L591.3 343.0 M589.2 337.5 L588.0 334.5 L586.8 331.5 M607.4 326.0 L606.4 323.0 L605.3 320.0 M603.3 314.5 L602.1 311.5 L600.9 308.5 M620.9 303.0 L619.9 300.0 L618.9 297.0 M616.9 291.5 L615.7 288.5 L614.6 285.5 M633.9 279.5 L632.9 276.5 L631.9 273.5 M629.9 268.0 L628.7 265.0 L627.5 262.0 M646.6 256.0 L645.6 253.0 L644.5 250.0 M642.1 243.5 L640.9 240.5 M658.5 231.5 L657.4 228.5 L656.3 225.5 M648.4 206.5 L647.2 203.5 M673.0 216.0 L672.0 213.0 M669.8 206.5 L668.7 203.5 L667.5 200.5 M664.9 194.0 L663.7 191.0 L662.6 188.0 M685.0 194.0 L684.1 191.0 L683.0 188.0 M680.4 181.0 L679.4 178.0 L678.3 175.0 M695.5 168.5 L694.6 165.5 L693.5 162.5"/>
<path stroke="#00ff00" stroke-width="0.99" d="M87.5 77.0 L87.0 75.3 M552.1 501.0 L551.3 498.0 L550.5 495.0 M549.5 491.0 L548.7 488.0 L547.8 485.0 M546.5 480.5 L545.6 477.5 L544.7 474.5 M571.4 501.0 L570.8 498.0 L570.2 495.0 M569.4 491.0 L568.8 488.0 L568.2 485.0 M567.2 480.5 L566.6 477.5 L565.9 474.5 M564.8 470.0 L564.1 467.0 L563.3 464.0 M562.2 459.5 L561.3 456.5 L560.5 453.5 M559.1 448.5 L558.2 445.5 L557.3 442.5 M583.7 470.0 L583.2 467.0 L582.6 464.0 M581.8 459.5 L581.2 456.5 L580.6 453.5 M579.5 448.5 L578.8 445.5 L578.2 442.5 M577.0 437.5 L576.2 434.5 L575.5 431.5 M574.3 427.0 L573.5 424.0 L572.6 421.0 M571.2 416.0 L570.2 413.0 M595.7 437.5 L595.2 434.5 L594.6 431.5 M593.8 427.0 L593.2 424.0 L592.5 421.0 M591.5 416.0 L590.8 413.0 L590.1 410.0 M588.9 405.0 L588.1 402.0 L587.3 399.0 M586.0 394.0 L585.1 391.0 L584.2 388.0 M607.5 405.0 L607.0 402.0 L606.4 399.0 M605.5 394.0 L604.8 391.0 L604.2 388.0 M603.1 383.0 L602.4 380.0 L601.6 377.0 M600.2 371.5 L599.4 368.5 L598.6 365.5 M597.1 360.5 L596.2 357.5 M619.0 371.5 L618.4 368.5 L617.8 365.5 M616.8 360.5 L616.1 357.5 L615.4 354.5 M614.1 349.0 L613.3 346.0 L612.5 343.0 M611.0 337.5 L610.1 334.5 L609.2 331.5 M632.3 349.0 L631.7 346.0 L631.2 343.0 M630.1 337.5 L629.4 334.5 L628.8 331.5 M627.5 326.0 L626.7 323.0 L625.9 320.0 M624.4 314.5 L623.6 311.5 L622.7 308.5 M644.6 323.0 L644.1 320.0 M643.0 314.5 L642.4 311.5 L641.8 308.5 M640.5 303.0 L639.8 300.0 L639.0 297.0 M637.6 291.5 L636.7 288.5 L635.8 285.5 M657.3 300.0 L656.8 297.0 M655.8 291.5 L655.2 288.5 L654.5 285.5 M653.2 279.5 L652.5 276.5 L651.7 273.5 M650.2 268.0 L649.4 265.0 L648.5 262.0 M668.1 268.0 L667.5 265.0 L666.9 262.0 M665.5 256.0 L664.8 253.0 L664.0 250.0 M662.2 243.5 L661.4 240.5 L660.4 237.5 M681.8 253.0 L681.3 250.0 M680.1 243.5 L679.4 240.5 L678.8 237.5 M677.3 231.5 L676.6 228.5 L675.8 225.5 M673.9 219.0 L673.0 216.0 M693.5 228.5 L693.0 225.5 M691.7 219.0 L691.0 216.0 L690.3 213.0 M688.7 206.5 L687.9 203.5 L687.0 200.5"/>
<path stroke="#00ff00" stroke-width="1.00" d="M588.5 501.0 L588.1 498.0 L587.7 495.0 M587.1 491.0 L586.7 488.0 L586.2 485.0 M585.5 480.5 L585.0 477.5 L584.5 474.5 M603.8 501.0 L603.5 498.0 L603.2 495.0 M602.8 491.0 L602.5 488.0 L602.2 485.0 M601.7 480.5 L601.4 477.5 L601.0 474.5 M600.5 470.0 L600.1 467.0 L599.7 464.0 M599.1 459.5 L598.7 456.5 L598.3 453.5 M597.5 448.5 L597.0 445.5 L596.5 442.5 M617.6 501.0 L617.4 498.0 L617.3 495.0 M617.0 491.0 L616.8 488.0 L616.6 485.0 M616.3 480.5 L616.1 477.5 L615.9 474.5 M615.5 470.0 L615.3 467.0 L615.0 464.0 M614.6 459.5 L614.3 456.5 L614.0 453.5 M613.5 448.5 L613.2 445.5 L612.9 442.5 M612.3 437.5 L611.9 434.5 L611.6 431.5 M611.0 427.0 L610.5 424.0 L610.1 421.0 M609.4 416.0 L608.9 413.0 L608.4 410.0 M630.2 501.0 L630.1 498.0 L630.0 495.0 M629.8 491.0 L629.7 488.0 L629.6 485.0 M629.5 480.5 L629.4 477.5 L629.2 474.5 M629.0 470.0 L628.9 467.0 L628.8 464.0 M628.5 459.5 L628.4 456.5 L628.2 453.5 M627.9 448.5 L627.7 445.5 L627.5 442.5 M627.2 437.5 L626.9 434.5 L626.7 431.5 M626.3 427.0 L626.1 424.0 L625.8 421.0 M625.3 416.0 L625.0 413.0 L624.6 410.0 M624.1 405.0 L623.7 402.0 L623.3 399.0 M622.7 394.0 L622.2 391.0 L621.8 388.0 M621.0 383.0 L620.5 380.0 L620.0 377.0 M641.6 501.0 L641.6 498.0 L641.6 495.0 M641.6 491.0 L641.5 488.0 L641.5 485.0 M641.5 480.5 L641.4 477.5 L641.4 474.5 M641.3 470.0 L641.3 467.0 L641.2 464.0 M641.2 459.5 L641.1 456.5 L641.0 453.5 M640.9 448.5 L640.8 445.5 L640.7 442.5 M640.6 437.5 L640.4 434.5 L640.3 431.5 M640.1 427.0 L640.0 424.0 L639.8 421.0 M639.6 416.0 L639.4 413.0 L639.2 410.0 M638.9 405.0 L638.6 402.0 L638.4 399.0 M638.0 394.0 L637.7 391.0 L637.4 388.0 M636.9 383.0 L636.6 380.0 L636.3 377.0 M635.6 371.5 L635.2 368.5 L634.8 365.5 M634.1 360.5 L633.7 357.5 L633.2 354.5 M652.2 501.0 L652.2 498.0 L652.3 495.0 M652.3 491.0 L652.4 488.0 L652.4 485.0 M652.5 480.5 L652.5 477.5 L652.5 474.5 M652.6 470.0 L652.6 467.0 L652.7 464.0 M652.7 459.5 L652.7 456.5 L652.7 453.5 M652.7 448.5 L652.7 445.5 L652.7 442.5 M652.7 437.5 L652.7 434.5 L652.7 431.5 M652.6 427.0 L652.6 424.0 L652.6 421.0 M652.5 416.0 L652.4 413.0 L652.3 410.0 M652.2 405.0 L652.1 402.0 L652.0 399.0 M651.8 394.0 L651.6 391.0 L651.5 388.0 M651.2 383.0 L651.1 380.0 L650.9 377.0 M650.5 371.5 L650.3 368.5 L650.0 365.5 M649.6 360.5 L649.3 357.5 L649.0 354.5 M648.4 349.0 L648.0 346.0 L647.7 343.0 M646.9 337.5 L646.5 334.5 L646.1 331.5 M645.2 326.0 L644.6 323.0 M661.9 501.0 L662.0 498.0 L662.1 495.0 M662.2 491.0 L662.3 488.0 L662.4 485.0 M662.6 480.5 L662.7 477.5 L662.8 474.5 M662.9 470.0 L663.0 467.0 L663.1 464.0 M663.3 459.5 L663.3 456.5 L663.4 453.5 M663.6 448.5 L663.6 445.5 L663.7 442.5 M663.8 437.5 L663.9 434.5 L664.0 431.5 M664.0 427.0 L664.1 424.0 L664.1 421.0 M664.2 416.0 L664.2 413.0 L664.3 410.0 M664.3 405.0 L664.3 402.0 L664.3 399.0 M664.3 394.0 L664.2 391.0 L664.2 388.0 M664.1 383.0 L664.1 380.0 L664.0 377.0 M663.9 371.5 L663.8 368.5 L663.6 365.5 M663.4 360.5 L663.3 357.5 L663.1 354.5 M662.8 349.0 L662.6 346.0 L662.4 343.0 M662.0 337.5 L661.7 334.5 L661.4 331.5 M660.9 326.0 L660.6 323.0 L660.2 320.0 M659.5 314.5 L659.1 311.5 L658.7 308.5 M657.8 303.0 L657.3 300.0 M670.9 501.0 L671.1 498.0 L671.2 495.0 M671.4 491.0 L671.6 488.0 L671.7 485.0 M672.0 480.5 L672.1 477.5 L672.3 474.5 M672.5 470.0 L672.6 467.0 L672.8 464.0 M673.0 459.5 L673.2 456.5 L673.3 453.5 M673.6 448.5 L673.7 445.5 L673.8 442.5 M674.1 437.5 L674.2 434.5 L674.3 431.5 M674.5 427.0 L674.6 424.0 L674.8 421.0 M675.0 416.0 L675.1 413.0 L675.2 410.0 M675.3 405.0 L675.4 402.0 L675.5 399.0 M675.6 394.0 L675.7 391.0 L675.8 388.0 M675.9 383.0 L675.9 380.0 L675.9 377.0 M676.0 371.5 L676.0 368.5 L676.0 365.5 M676.0 360.5 L676.0 357.5 L675.9 354.5 M675.8 349.0 L675.8 346.0 L675.7 343.0 M675.5 337.5 L675.4 334.5 L675.3 331.5 M675.0 326.0 L674.8 323.0 L674.6 320.0 M674.2 314.5 L674.0 311.5 L673.8 308.5 M673.2 303.0 L672.9 300.0 L672.6 297.0 M671.9 291.5 L671.5 288.5 L671.1 285.5 M670.2 279.5 L669.7 276.5 L669.2 273.5 M679.4 501.0 L679.5 498.0 L679.7 495.0 M680.0 491.0 L680.2 488.0 L680.4 485.0 M680.7 480.5 L680.9 477.5 L681.1 474.5 M681.4 470.0 L681.6 467.0 L681.8 464.0 M682.1 459.5 L682.3 456.5 L682.5 453.5 M682.8 448.5 L683.0 445.5 L683.2 442.5 M683.5 437.5 L683.7 434.5 L683.9 431.5 M684.2 427.0 L684.4 424.0 L684.5 421.0 M684.8 416.0 L685.0 413.0 L685.2 410.0 M685.5 405.0 L685.6 402.0 L685.8 399.0 M686.1 394.0 L686.2 391.0 L686.4 388.0 M686.6 383.0 L686.7 380.0 L686.8 377.0 M687.0 371.5 L687.1 368.5 L687.2 365.5 M687.4 360.5 L687.5 357.5 L687.5 354.5 M687.6 349.0 L687.7 346.0 L687.7 343.0 M687.8 337.5 L687.8 334.5 L687.8 331.5 M687.7 326.0 L687.7 323.0 L687.6 320.0 M687.5 314.5 L687.4 311.5 L687.3 308.5 M687.0 303.0 L686.9 300.0 L686.7 297.0 M686.4 291.5 L686.1 288.5 L685.9 285.5 M685.4 279.5 L685.1 276.5 L684.7 273.5 M684.1 268.0 L683.7 265.0 L683.3 262.0 M682.3 256.0 L681.8 253.0 M687.2 501.0 L687.5 498.0 L687.7 495.0 M688.0 491.0 L688.2 488.0 L688.4 485.0 M688.8 480.5 L689.0 477.5 L689.3 474.5 M689.6 470.0 L689.9 467.0 L690.1 464.0 M690.5 459.5 L690.7 456.5 L691.0 453.5 M691.4 448.5 L691.6 445.5 L691.9 442.5 M692.3 437.5 L692.5 434.5 L692.8 431.5 M693.1 427.0 L693.4 424.0 L693.6 421.0 M694.0 416.0 L694.2 413.0 L694.5 410.0 M694.8 405.0 L695.1 402.0 L695.3 399.0 M695.7 394.0 L695.9 391.0 L696.1 388.0 M695.9 243.5 L695.5 240.5 L695.0 237.5 M694.1 231.5 L693.5 228.5 M694.6 501.0 L694.9 498.0 L695.1 495.0 M695.5 491.0 L695.7 488.0 L696.0 485.0"/>
<path stroke="#4b0082" stroke-width="0.75" d="M380.5 238.1 L378.7 240.1 M392.8 224.4 L391.0 226.4 L389.2 228.4 L387.4 230.4 L386.5 231.4 M405.5 210.2 L403.7 212.2 L401.9 214.2 L400.1 216.2 L399.2 217.2 M417.2 197.2 L415.4 199.2 L413.6 201.2 L411.8 203.2 L410.9 204.2 M429.7 183.4 L427.9 185.4 L426.1 187.4 L424.3 189.4 L423.4 190.4 M442.3 169.5 L440.4 171.5 L438.6 173.5 L436.8 175.5 L435.7 176.8 M454.8 155.6 L453.0 157.6 L451.2 159.6 L449.4 161.6 L448.2 162.9 M467.4 141.8 L465.6 143.8 L463.8 145.8 L462.0 147.8 L460.8 149.0 M480.0 127.9 L478.2 129.9 L476.4 131.9 L474.6 133.9 L473.2 135.4 M492.6 114.0 L490.8 116.0 L489.0 118.0 L487.2 120.0 L485.8 121.5 M505.3 100.2 L503.5 102.2 L501.7 104.2 L499.8 106.2 L498.5 107.7 M518.0 86.3 L516.2 88.3 L514.3 90.3 L512.5 92.3 L511.1 93.8 M529.2 74.0 L527.4 76.0 L525.6 78.0 L523.8 80.0 M543.6 100.2 L541.8 102.2 L540.1 104.2 L538.3 106.2 L536.9 107.7 M556.1 86.3 L554.3 88.3 L552.5 90.3 L550.7 92.3 L549.4 93.8 M567.2 74.0 L565.4 76.0 L563.6 78.0 L561.8 80.0"/>
<path stroke="#4b0082" stroke-width="0.78" d="M150.0 501.2 L148.6 502.9 M159.9 489.7 L158.2 491.7 L156.5 493.7 L155.2 495.2 M171.9 475.7 L170.2 477.7 L168.5 479.7 L167.2 481.2 M182.0 463.9 L180.3 465.9 L178.6 467.9 L177.1 469.6 M193.2 451.0 L191.4 453.0 L189.7 455.0 L188.2 456.8 M204.2 438.2 L202.5 440.2 L200.8 442.2 L199.3 443.9 M215.9 424.7 L214.2 426.7 L212.5 428.7 L210.9 430.4 M227.0 412.0 L225.2 414.0 L223.5 416.0 L221.7 418.0 M238.3 399.0 L236.5 401.0 L234.8 403.0 L233.1 405.0 M249.9 385.6 L248.2 387.6 L246.4 389.6 L244.7 391.6 M261.6 372.3 L259.9 374.3 L258.1 376.3 L256.4 378.3 M273.3 358.9 L271.6 360.9 L269.8 362.9 L268.1 364.9 L267.9 365.2 M285.1 345.6 L283.3 347.6 L281.6 349.6 L279.8 351.6 L279.6 351.8 M296.9 332.2 L295.1 334.2 L293.3 336.2 L291.6 338.2 L291.3 338.4 M308.7 318.8 L306.9 320.8 L305.1 322.8 L303.4 324.8 L302.9 325.3 M320.5 305.5 L318.7 307.5 L316.9 309.5 L315.2 311.5 L314.7 312.0 M332.3 292.1 L330.6 294.1 L328.8 296.1 L327.0 298.1 L326.6 298.6 M344.2 278.8 L342.4 280.8 L340.6 282.8 L338.9 284.8 L338.4 285.3 M356.1 265.4 L354.3 267.4 L352.5 269.4 L350.8 271.4 L350.1 272.1 M368.5 251.5 L366.7 253.5 L364.9 255.5 L363.2 257.5 L362.5 258.2 M378.7 240.1 L376.9 242.1 L375.1 244.1 L374.5 244.8 M196.3 501.2 L194.8 502.9 M205.8 489.7 L204.2 491.7 L202.5 493.7 L201.2 495.2 M217.5 475.7 L215.8 477.7 L214.2 479.7 L212.9 481.2 M227.4 463.9 L225.7 465.9 L224.0 467.9 L222.6 469.6 M238.2 451.0 L236.6 453.0 L234.9 455.0 L233.4 456.8 M249.0 438.2 L247.3 440.2 L245.6 442.2 L244.2 443.9 M260.4 424.7 L258.7 426.7 L257.0 428.7 L255.6 430.4 M271.2 412.0 L269.5 414.0 L267.8 416.0 L266.1 418.0 M282.2 399.0 L280.5 401.0 L278.8 403.0 L277.1 405.0 M293.6 385.6 L291.9 387.6 L290.2 389.6 L288.5 391.6 M305.0 372.3 L303.3 374.3 L301.6 376.3 L299.9 378.3 M316.4 358.9 L314.7 360.9 L313.0 362.9 L311.3 364.9 L311.1 365.2 M327.9 345.6 L326.2 347.6 L324.5 349.6 L322.8 351.6 L322.5 351.8 M339.4 332.2 L337.7 334.2 L336.0 336.2 L334.2 338.2 L334.0 338.4 M350.9 318.8 L349.2 320.8 L347.5 322.8 L345.8 324.8 L345.3 325.3 M362.5 305.5 L360.8 307.5 L359.0 309.5 L357.3 311.5 L356.9 312.0 M374.1 292.1 L372.4 294.1 L370.6 296.1 L368.9 298.1 L368.4 298.6 M385.7 278.8 L384.0 280.8 L382.2 282.8 L380.5 284.8 L380.0 285.3 M397.4 265.4 L395.6 267.4 L393.9 269.4 L392.1 271.4 L391.5 272.1 M409.5 251.5 L407.8 253.5 L406.0 255.5 L404.3 257.5 L403.6 258.2 M421.2 238.1 L419.5 240.1 L417.7 242.1 L416.0 244.1 L415.3 244.8 M433.3 224.4 L431.5 226.4 L429.8 228.4 L428.0 230.4 L427.1 231.4 M445.7 210.2 L444.0 212.2 L442.2 214.2 L440.4 216.2 L439.6 217.2 M457.2 197.2 L455.4 199.2 L453.7 201.2 L451.9 203.2 L451.0 204.2 M469.5 183.4 L467.7 185.4 L465.9 187.4 L464.2 189.4 L463.3 190.4 M481.8 169.5 L480.0 171.5 L478.2 173.5 L476.4 175.5 L475.3 176.8 M494.1 155.6 L492.3 157.6 L490.5 159.6 L488.7 161.6 L487.6 162.9 M506.4 141.8 L504.6 143.8 L502.9 145.8 L501.1 147.8 L500.0 149.0 M518.8 127.9 L517.0 129.9 L515.2 131.9 L513.4 133.9 L512.1 135.4 M531.2 114.0 L529.4 116.0 L527.6 118.0 L525.8 120.0 L524.5 121.5 M344.7 399.0 L343.1 401.0 L341.4 403.0 L339.8 405.0 M355.6 385.6 L354.0 387.6 L352.4 389.6 L350.7 391.6 M366.6 372.3 L365.0 374.3 L363.3 376.3 L361.7 378.3 M377.7 358.9 L376.0 360.9 L374.3 362.9 L372.7 364.9 L372.5 365.2 M388.7 345.6 L387.1 347.6 L385.4 349.6 L383.7 351.6 L383.5 351.8 M399.8 332.2 L398.1 334.2 L396.5 336.2 L394.8 338.2 L394.6 338.4 M410.9 318.8 L409.3 320.8 L407.6 322.8 L405.9 324.8 L405.5 325.3 M422.1 305.5 L420.4 307.5 L418.8 309.5 L417.1 311.5 L416.7 312.0 M433.3 292.1 L431.6 294.1 L429.9 296.1 L428.3 298.1 L427.8 298.6 M444.5 278.8 L442.8 280.8 L441.2 282.8 L439.5 284.8 L439.1 285.3 M455.8 265.4 L454.1 267.4 L452.4 269.4 L450.7 271.4 L450.1 272.1 M467.5 251.5 L465.9 253.5 L464.2 255.5 L462.5 257.5 L461.8 258.2 M478.9 238.1 L477.2 240.1 L475.5 242.1 L473.8 244.1 L473.2 244.8 M490.6 224.4 L488.9 226.4 L487.2 228.4 L485.5 230.4 L484.6 231.4 M502.6 210.2 L500.9 212.2 L499.2 214.2 L497.5 216.2 L496.7 217.2 M513.8 197.2 L512.0 199.2 L510.3 201.2 L508.6 203.2 L507.8 204.2 M525.7 183.4 L523.9 185.4 L522.2 187.4 L520.5 189.4 L519.6 190.4 M537.6 169.5 L535.9 171.5 L534.1 173.5 L532.4 175.5 L531.3 176.8 M549.5 155.6 L547.8 157.6 L546.1 159.6 L544.4 161.6 L543.3 162.9 M561.5 141.8 L559.8 143.8 L558.1 145.8 L556.3 147.8 L555.3 149.0 M573.6 127.9 L571.8 129.9 L570.1 131.9 L568.4 133.9 L567.1 135.4 M585.6 114.0 L583.9 116.0 L582.1 118.0 L580.4 120.0 L579.1 121.5 M597.7 100.2 L596.0 102.2 L594.2 104.2 L592.5 106.2 L591.2 107.7 M609.8 86.3 L608.1 88.3 L606.3 90.3 L604.6 92.3 L603.3 93.8 M620.6 74.0 L618.8 76.0 L617.1 78.0 L615.3 80.0 M492.4 278.8 L490.8 280.8 L489.1 282.8 L487.5 284.8 L487.1 285.3 M503.3 265.4 L501.7 267.4 L500.1 269.4 L498.4 271.4 L497.8 272.1 M514.8 251.5 L513.1 253.5 L511.5 255.5 L509.8 257.5 L509.2 258.2 M525.8 238.1 L524.1 240.1 L522.5 242.1 L520.8 244.1 L520.2 244.8 M537.1 224.4 L535.5 226.4 L533.8 228.4 L532.2 230.4 L531.3 231.4 M548.9 210.2 L547.2 212.2 L545.5 214.2 L543.9 216.2 L543.0 217.2 M559.7 197.2 L558.0 199.2 L556.3 201.2 L554.7 203.2 L553.8 204.2 M571.3 183.4 L569.6 185.4 L567.9 187.4 L566.2 189.4 L565.4 190.4 M582.9 169.5 L581.2 171.5 L579.5 173.5 L577.8 175.5 L576.8 176.8 M594.5 155.6 L592.8 157.6 L591.2 159.6 L589.5 161.6 L588.4 162.9 M606.2 141.8 L604.5 143.8 L602.8 145.8 L601.1 147.8 L600.1 149.0 M617.9 127.9 L616.2 129.9 L614.5 131.9 L612.9 133.9 L611.6 135.4 M629.7 114.0 L628.0 116.0 L626.3 118.0 L624.6 120.0 L623.3 121.5 M641.5 100.2 L639.8 102.2 L638.1 104.2 L636.4 106.2 L635.1 107.7 M653.3 86.3 L651.6 88.3 L649.9 90.3 L648.2 92.3 L646.9 93.8 M663.8 74.0 L662.1 76.0 L660.4 78.0 L658.7 80.0 M577.3 210.2 L575.7 212.2 M587.9 197.2 L586.3 199.2 L584.6 201.2 L583.0 203.2 L582.2 204.2 M599.3 183.4 L597.7 185.4 L596.0 187.4 L594.4 189.4 L593.6 190.4 M610.7 169.5 L609.1 171.5 L607.4 173.5 L605.8 175.5 L604.7 176.8 M622.2 155.6 L620.5 157.6 L618.9 159.6 L617.2 161.6 L616.2 162.9 M633.7 141.8 L632.0 143.8 L630.3 145.8 L628.7 147.8 L627.6 149.0 M645.2 127.9 L643.5 129.9 L641.9 131.9 L640.2 133.9 L638.9 135.4 M656.7 114.0 L655.1 116.0 L653.4 118.0 L651.7 120.0 L650.5 121.5 M668.4 100.2 L666.7 102.2 L665.0 104.2 L663.3 106.2 L662.1 107.7 M680.0 86.3 L678.3 88.3 L676.6 90.3 L675.0 92.3 L673.7 93.8 M690.3 74.0 L688.6 76.0 L687.0 78.0 L685.3 80.0 M642.4 155.6 L640.8 157.6 L639.2 159.6 M653.8 141.8 L652.1 143.8 L650.5 145.8 L648.8 147.8 L647.8 149.0 M665.1 127.9 L663.5 129.9 L661.9 131.9 L660.2 133.9 L659.0 135.4 M676.6 114.0 L674.9 116.0 L673.3 118.0 L671.6 120.0 L670.4 121.5 M688.0 100.2 L686.4 102.2 L684.7 104.2 L683.1 106.2 L681.8 107.7 M696.4 90.1 L696.2 90.3 L694.5 92.3 L693.3 93.8"/>
<path stroke="#4b0082" stroke-width="0.81" d="M262.2 501.2 L260.8 502.9 M271.4 489.7 L269.8 491.7 L268.2 493.7 L267.0 495.2 M282.6 475.7 L281.0 477.7 L279.3 479.7 L278.1 481.2 M292.0 463.9 L290.4 465.9 L288.8 467.9 L287.4 469.6 M302.4 451.0 L300.8 453.0 L299.2 455.0 L297.8 456.8 M312.8 438.2 L311.2 440.2 L309.5 442.2 L308.1 443.9 M323.7 424.7 L322.1 426.7 L320.5 428.7 L319.1 430.4 M334.1 412.0 L332.4 414.0 L330.8 416.0 L329.2 418.0 M316.2 501.2 L314.9 502.9 M325.0 489.7 L323.5 491.7 L321.9 493.7 L320.8 495.2 M335.8 475.7 L334.3 477.7 L332.7 479.7 L331.6 481.2 M344.9 463.9 L343.4 465.9 L341.8 467.9 L340.5 469.6 M354.9 451.0 L353.4 453.0 L351.8 455.0 L350.5 456.8 M364.9 438.2 L363.4 440.2 L361.8 442.2 L360.4 443.9 M375.5 424.7 L373.9 426.7 L372.4 428.7 L371.0 430.4 M385.5 412.0 L383.9 414.0 L382.3 416.0 L380.8 418.0 M395.7 399.0 L394.1 401.0 L392.6 403.0 L391.0 405.0 M406.3 385.6 L404.7 387.6 L403.1 389.6 L401.6 391.6 M416.9 372.3 L415.3 374.3 L413.7 376.3 L412.2 378.3 M427.6 358.9 L426.0 360.9 L424.4 362.9 L422.8 364.9 L422.6 365.2 M438.3 345.6 L436.7 347.6 L435.1 349.6 L433.5 351.6 L433.3 351.8 M449.0 332.2 L447.4 334.2 L445.8 336.2 L444.2 338.2 L444.0 338.4 M459.8 318.8 L458.2 320.8 L456.6 322.8 L455.0 324.8 L454.6 325.3 M470.6 305.5 L469.0 307.5 L467.4 309.5 L465.8 311.5 L465.4 312.0 M481.5 292.1 L479.9 294.1 L478.3 296.1 L476.6 298.1 L476.2 298.6 M349.6 501.2 L348.3 502.9 M358.2 489.7 L356.7 491.7 L355.2 493.7 L354.1 495.2 M368.7 475.7 L367.2 477.7 L365.7 479.7 L364.6 481.2 M377.6 463.9 L376.1 465.9 L374.6 467.9 L373.3 469.6 M387.4 451.0 L385.9 453.0 L384.4 455.0 L383.1 456.8 M397.2 438.2 L395.6 440.2 L394.1 442.2 L392.8 443.9 M407.5 424.7 L406.0 426.7 L404.4 428.7 L403.1 430.4 M417.2 412.0 L415.7 414.0 L414.2 416.0 L412.6 418.0 M427.3 399.0 L425.7 401.0 L424.2 403.0 L422.6 405.0 M437.6 385.6 L436.0 387.6 L434.5 389.6 L432.9 391.6 M448.0 372.3 L446.4 374.3 L444.9 376.3 L443.3 378.3 M458.4 358.9 L456.9 360.9 L455.3 362.9 L453.7 364.9 L453.5 365.2 M468.9 345.6 L467.3 347.6 L465.8 349.6 L464.2 351.6 L464.0 351.8 M479.4 332.2 L477.8 334.2 L476.3 336.2 L474.7 338.2 L474.5 338.4 M490.0 318.8 L488.4 320.8 L486.8 322.8 L485.2 324.8 L484.8 325.3 M500.6 305.5 L499.0 307.5 L497.4 309.5 L495.8 311.5 L495.4 312.0 M511.2 292.1 L509.6 294.1 L508.0 296.1 L506.4 298.1 L506.0 298.6 M521.9 278.8 L520.3 280.8 L518.7 282.8 L517.1 284.8 L516.7 285.3 M532.6 265.4 L531.0 267.4 L529.4 269.4 L527.8 271.4 L527.2 272.1 M543.8 251.5 L542.2 253.5 L540.6 255.5 L539.0 257.5 L538.4 258.2 M554.7 238.1 L553.0 240.1 L551.4 242.1 L549.8 244.1 L549.2 244.8 M565.8 224.4 L564.1 226.4 L562.5 228.4 L560.9 230.4 L560.1 231.4 M575.7 212.2 L574.0 214.2 L572.4 216.2 L571.6 217.2 M393.0 475.7 L391.5 477.7 L390.0 479.7 M401.7 463.9 L400.2 465.9 L398.8 467.9 L397.5 469.6 M411.3 451.0 L409.8 453.0 L408.3 455.0 L407.0 456.8 M420.9 438.2 L419.4 440.2 L417.9 442.2 L416.6 443.9 M431.0 424.7 L429.5 426.7 L428.0 428.7 L426.7 430.4 M440.6 412.0 L439.1 414.0 L437.6 416.0 L436.0 418.0 M450.4 399.0 L448.9 401.0 L447.4 403.0 L445.9 405.0 M460.6 385.6 L459.1 387.6 L457.5 389.6 L456.0 391.6 M470.8 372.3 L469.3 374.3 L467.7 376.3 L466.2 378.3 M481.1 358.9 L479.5 360.9 L478.0 362.9 L476.5 364.9 L476.3 365.2 M491.4 345.6 L489.8 347.6 L488.3 349.6 L486.7 351.6 L486.5 351.8 M501.7 332.2 L500.2 334.2 L498.6 336.2 L497.1 338.2 L496.9 338.4 M512.1 318.8 L510.6 320.8 L509.0 322.8 L507.4 324.8 L507.0 325.3 M522.5 305.5 L521.0 307.5 L519.4 309.5 L517.9 311.5 L517.5 312.0 M533.0 292.1 L531.5 294.1 L529.9 296.1 L528.3 298.1 L527.9 298.6 M543.5 278.8 L542.0 280.8 L540.4 282.8 L538.8 284.8 L538.4 285.3 M554.1 265.4 L552.5 267.4 L550.9 269.4 L549.4 271.4 L548.8 272.1 M565.1 251.5 L563.6 253.5 L562.0 255.5 L560.4 257.5 L559.8 258.2 M575.8 238.1 L574.2 240.1 L572.6 242.1 L571.0 244.1 L570.4 244.8 M586.8 224.4 L585.2 226.4 L583.6 228.4 L582.0 230.4 L581.2 231.4 M598.1 210.2 L596.5 212.2 L594.9 214.2 L593.3 216.2 L592.5 217.2 M608.6 197.2 L607.0 199.2 L605.4 201.2 L603.8 203.2 L603.0 204.2 M619.8 183.4 L618.2 185.4 L616.6 187.4 L615.0 189.4 L614.2 190.4 M631.1 169.5 L629.5 171.5 L627.9 173.5 L626.2 175.5 L625.2 176.8 M639.2 159.6 L637.5 161.6 L636.5 162.9 M484.3 399.0 L482.8 401.0 L481.3 403.0 L479.8 405.0 M494.2 385.6 L492.7 387.6 L491.2 389.6 L489.7 391.6 M504.1 372.3 L502.6 374.3 L501.1 376.3 L499.7 378.3 M514.1 358.9 L512.6 360.9 L511.1 362.9 L509.6 364.9 L509.4 365.2 M524.2 345.6 L522.7 347.6 L521.2 349.6 L519.7 351.6 L519.5 351.8 M534.3 332.2 L532.8 334.2 L531.2 336.2 L529.7 338.2 L529.5 338.4 M544.4 318.8 L542.9 320.8 L541.4 322.8 L539.9 324.8 L539.5 325.3 M554.6 305.5 L553.1 307.5 L551.5 309.5 L550.0 311.5 L549.6 312.0 M564.8 292.1 L563.3 294.1 L561.8 296.1 L560.2 298.1 L559.9 298.6 M575.1 278.8 L573.6 280.8 L572.0 282.8 L570.5 284.8 L570.1 285.3 M585.4 265.4 L583.9 267.4 L582.3 269.4 L580.8 271.4 L580.2 272.1 M596.2 251.5 L594.7 253.5 L593.1 255.5 L591.6 257.5 L591.0 258.2 M606.7 238.1 L605.1 240.1 L603.6 242.1 L602.0 244.1 L601.4 244.8 M617.4 224.4 L615.8 226.4 L614.3 228.4 L612.7 230.4 L611.9 231.4 M628.5 210.2 L627.0 212.2 L625.4 214.2 L623.8 216.2 L623.0 217.2 M638.8 197.2 L637.2 199.2 L635.6 201.2 L634.1 203.2 L633.3 204.2 M649.8 183.4 L648.2 185.4 L646.6 187.4 L645.0 189.4 L644.2 190.4 M660.8 169.5 L659.2 171.5 L657.6 173.5 L656.0 175.5 L655.0 176.8 M671.9 155.6 L670.3 157.6 L668.7 159.6 L667.1 161.6 L666.1 162.9 M683.0 141.8 L681.4 143.8 L679.8 145.8 L678.2 147.8 L677.2 149.0 M694.2 127.9 L692.6 129.9 L691.0 131.9 L689.4 133.9 L688.1 135.4 M548.3 345.6 L546.8 347.6 L545.3 349.6 L543.9 351.6 L543.7 351.8 M558.2 332.2 L556.7 334.2 L555.2 336.2 L553.7 338.2 L553.5 338.4 M568.1 318.8 L566.7 320.8 L565.2 322.8 L563.7 324.8 L563.3 325.3 M578.1 305.5 L576.6 307.5 L575.1 309.5 L573.6 311.5 L573.3 312.0 M588.2 292.1 L586.7 294.1 L585.2 296.1 L583.7 298.1 L583.3 298.6 M598.3 278.8 L596.8 280.8 L595.3 282.8 L593.8 284.8 L593.4 285.3 M608.4 265.4 L606.9 267.4 L605.4 269.4 L603.9 271.4 L603.3 272.1 M619.1 251.5 L617.5 253.5 L616.0 255.5 L614.5 257.5 L613.9 258.2 M629.3 238.1 L627.8 240.1 L626.3 242.1 L624.7 244.1 L624.1 244.8 M639.9 224.4 L638.3 226.4 L636.8 228.4 L635.2 230.4 L634.5 231.4 M650.8 210.2 L649.3 212.2 L647.7 214.2 L646.2 216.2 L645.4 217.2 M660.9 197.2 L659.4 199.2 L657.8 201.2 L656.3 203.2 L655.5 204.2 M671.7 183.4 L670.2 185.4 L668.6 187.4 L667.1 189.4 L666.3 190.4 M682.6 169.5 L681.0 171.5 L679.5 173.5 L677.9 175.5 L676.9 176.8 M693.5 155.6 L691.9 157.6 L690.4 159.6 L688.8 161.6 L687.8 162.9 M632.1 278.8 L630.7 280.8 M642.0 265.4 L640.5 267.4 L639.0 269.4 L637.6 271.4 L637.0 272.1 M652.3 251.5 L650.8 253.5 L649.4 255.5 L647.9 257.5 L647.3 258.2 M662.3 238.1 L660.9 240.1 L659.4 242.1 L657.9 244.1 L657.3 244.8 M672.6 224.4 L671.1 226.4 L669.6 228.4 L668.1 230.4 L667.4 231.4 M683.3 210.2 L681.8 212.2 L680.3 214.2 L678.8 216.2 L678.0 217.2 M693.2 197.2 L691.6 199.2 L690.1 201.2 L688.6 203.2 L687.9 204.2 M696.4 224.8 L695.2 226.4 L693.7 228.4"/>
<path stroke="#4b0082" stroke-width="0.84" d="M374.3 501.2 L373.0 502.9 M382.7 489.7 L381.2 491.7 L379.7 493.7 L378.6 495.2 M390.0 479.7 L388.9 481.2 M410.3 501.2 L409.0 502.9 M418.4 489.7 L417.0 491.7 L415.6 493.7 L414.5 495.2 M428.4 475.7 L427.0 477.7 L425.6 479.7 L424.5 481.2 M436.9 463.9 L435.5 465.9 L434.0 467.9 L432.8 469.6 M446.2 451.0 L444.8 453.0 L443.3 455.0 L442.1 456.8 M455.5 438.2 L454.1 440.2 L452.6 442.2 L451.3 443.9 M465.4 424.7 L463.9 426.7 L462.4 428.7 L461.2 430.4 M474.7 412.0 L473.2 414.0 L471.8 416.0 L470.3 418.0 M436.8 501.2 L435.6 502.9 M444.8 489.7 L443.4 491.7 L442.0 493.7 L440.9 495.2 M454.5 475.7 L453.1 477.7 L451.7 479.7 L450.7 481.2 M462.8 463.9 L461.4 465.9 L460.0 467.9 L458.8 469.6 M471.9 451.0 L470.5 453.0 L469.1 455.0 L467.9 456.8 M481.0 438.2 L479.6 440.2 L478.2 442.2 L476.9 443.9 M490.7 424.7 L489.2 426.7 L487.8 428.7 L486.6 430.4 M499.8 412.0 L498.3 414.0 L496.9 416.0 L495.5 418.0 M509.2 399.0 L507.7 401.0 L506.3 403.0 L504.8 405.0 M518.9 385.6 L517.4 387.6 L516.0 389.6 L514.5 391.6 M528.6 372.3 L527.2 374.3 L525.7 376.3 L524.2 378.3 M538.4 358.9 L537.0 360.9 L535.5 362.9 L534.0 364.9 L533.8 365.2 M475.6 501.2 L474.4 502.9 M483.3 489.7 L481.9 491.7 L480.6 493.7 L479.6 495.2 M492.7 475.7 L491.4 477.7 L490.0 479.7 L489.0 481.2 M500.7 463.9 L499.4 465.9 L498.0 467.9 L496.8 469.6 M509.5 451.0 L508.2 453.0 L506.8 455.0 L505.6 456.8 M518.3 438.2 L516.9 440.2 L515.6 442.2 L514.4 443.9 M527.6 424.7 L526.3 426.7 L524.9 428.7 L523.7 430.4 M536.5 412.0 L535.1 414.0 L533.7 416.0 L532.3 418.0 M545.6 399.0 L544.2 401.0 L542.8 403.0 L541.4 405.0 M555.0 385.6 L553.6 387.6 L552.1 389.6 L550.7 391.6 M564.4 372.3 L563.0 374.3 L561.6 376.3 L560.2 378.3 M573.9 358.9 L572.5 360.9 L571.1 362.9 L569.7 364.9 L569.5 365.2 M583.5 345.6 L582.1 347.6 L580.6 349.6 L579.2 351.6 L579.0 351.8 M593.1 332.2 L591.7 334.2 L590.2 336.2 L588.8 338.2 L588.6 338.4 M602.8 318.8 L601.3 320.8 L599.9 322.8 L598.4 324.8 L598.1 325.3 M612.5 305.5 L611.1 307.5 L609.6 309.5 L608.1 311.5 L607.8 312.0 M622.3 292.1 L620.8 294.1 L619.4 296.1 L617.9 298.1 L617.5 298.6 M630.7 280.8 L629.2 282.8 L627.7 284.8 L627.3 285.3 M528.6 463.9 L527.3 465.9 L526.0 467.9 L524.8 469.6 M537.2 451.0 L535.9 453.0 L534.5 455.0 L533.4 456.8 M545.8 438.2 L544.4 440.2 L543.1 442.2 L541.9 443.9 M554.8 424.7 L553.5 426.7 L552.1 428.7 L551.0 430.4 M563.5 412.0 L562.1 414.0 L560.7 416.0 L559.4 418.0 M572.3 399.0 L571.0 401.0 L569.6 403.0 L568.2 405.0 M581.5 385.6 L580.1 387.6 L578.7 389.6 L577.4 391.6 M590.7 372.3 L589.3 374.3 L588.0 376.3 L586.6 378.3 M600.0 358.9 L598.6 360.9 L597.2 362.9 L595.8 364.9 L595.7 365.2 M609.4 345.6 L608.0 347.6 L606.6 349.6 L605.2 351.6 L605.0 351.8 M618.8 332.2 L617.4 334.2 L616.0 336.2 L614.6 338.2 L614.4 338.4 M628.2 318.8 L626.8 320.8 L625.4 322.8 L624.0 324.8 L623.6 325.3 M637.8 305.5 L636.3 307.5 L634.9 309.5 L633.5 311.5 L633.1 312.0 M647.3 292.1 L645.9 294.1 L644.5 296.1 L643.0 298.1 L642.7 298.6 M657.0 278.8 L655.5 280.8 L654.1 282.8 L652.6 284.8 L652.3 285.3 M666.6 265.4 L665.2 267.4 L663.7 269.4 L662.3 271.4 L661.7 272.1 M676.8 251.5 L675.3 253.5 L673.8 255.5 L672.4 257.5 L671.8 258.2 M686.6 238.1 L685.1 240.1 L683.7 242.1 L682.2 244.1 L681.6 244.8 M693.7 228.4 L692.2 230.4 L691.5 231.4 M576.5 424.7 L575.2 426.7 L573.9 428.7 L572.7 430.4 M584.9 412.0 L583.6 414.0 L582.3 416.0 L581.0 418.0 M593.6 399.0 L592.3 401.0 L591.0 403.0 L589.6 405.0 M602.6 385.6 L601.3 387.6 L599.9 389.6 L598.6 391.6 M611.7 372.3 L610.3 374.3 L609.0 376.3 L607.6 378.3 M620.8 358.9 L619.4 360.9 L618.1 362.9 L616.7 364.9 L616.5 365.2 M630.0 345.6 L628.6 347.6 L627.2 349.6 L625.8 351.6 L625.7 351.8 M639.2 332.2 L637.8 334.2 L636.4 336.2 L635.1 338.2 L634.9 338.4 M648.5 318.8 L647.1 320.8 L645.7 322.8 L644.3 324.8 L644.0 325.3 M657.8 305.5 L656.4 307.5 L655.0 309.5 L653.6 311.5 L653.3 312.0 M667.3 292.1 L665.8 294.1 L664.4 296.1 L663.0 298.1 L662.7 298.6 M676.7 278.8 L675.3 280.8 L673.9 282.8 L672.5 284.8 L672.1 285.3 M686.2 265.4 L684.8 267.4 L683.4 269.4 L682.0 271.4 L681.4 272.1 M696.2 251.5 L694.8 253.5 L693.3 255.5 L691.9 257.5 L691.4 258.2 M620.2 385.6 L618.9 387.6 L617.6 389.6 L616.3 391.6 M629.1 372.3 L627.8 374.3 L626.5 376.3 L625.1 378.3 M638.1 358.9 L636.8 360.9 L635.4 362.9 L634.1 364.9 L633.9 365.2 M647.1 345.6 L645.8 347.6 L644.4 349.6 L643.1 351.6 L642.9 351.8 M656.2 332.2 L654.9 334.2 L653.5 336.2 L652.1 338.2 L652.0 338.4 M665.4 318.8 L664.0 320.8 L662.6 322.8 L661.3 324.8 L660.9 325.3 M674.6 305.5 L673.2 307.5 L671.8 309.5 L670.4 311.5 L670.1 312.0 M683.8 292.1 L682.5 294.1 L681.1 296.1 L679.7 298.1 L679.3 298.6 M693.2 278.8 L691.8 280.8 L690.4 282.8 L689.0 284.8 L688.6 285.3 M668.6 345.6 L667.2 347.6 L665.9 349.6 L664.6 351.6 L664.4 351.8 M677.5 332.2 L676.1 334.2 L674.8 336.2 L673.5 338.2 L673.3 338.4 M686.4 318.8 L685.1 320.8 L683.7 322.8 L682.4 324.8 L682.1 325.3 M695.5 305.5 L694.1 307.5 L692.8 309.5 L691.4 311.5 L691.1 312.0"/>
<path stroke="#4b0082" stroke-width="0.87" d="M504.2 501.2 L503.0 502.9 M511.7 489.7 L510.4 491.7 L509.1 493.7 L508.1 495.2 M520.8 475.7 L519.5 477.7 L518.2 479.7 L517.2 481.2 M527.0 501.2 L525.9 502.9 M534.3 489.7 L533.0 491.7 L531.7 493.7 L530.8 495.2 M543.2 475.7 L542.0 477.7 L540.7 479.7 L539.7 481.2 M550.9 463.9 L549.6 465.9 L548.3 467.9 L547.1 469.6 M559.2 451.0 L557.9 453.0 L556.6 455.0 L555.5 456.8 M567.6 438.2 L566.3 440.2 L565.0 442.2 L563.8 443.9 M546.0 501.2 L544.9 502.9 M553.1 489.7 L551.9 491.7 L550.6 493.7 L549.7 495.2 M561.9 475.7 L560.7 477.7 L559.4 479.7 L558.5 481.2 M569.4 463.9 L568.1 465.9 L566.9 467.9 L565.8 469.6 M577.6 451.0 L576.3 453.0 L575.1 455.0 L574.0 456.8 M585.8 438.2 L584.6 440.2 L583.3 442.2 L582.1 443.9 M594.6 424.7 L593.3 426.7 L592.0 428.7 L590.9 430.4 M602.9 412.0 L601.6 414.0 L600.3 416.0 L598.9 418.0 M611.4 399.0 L610.1 401.0 L608.8 403.0 L607.5 405.0 M569.7 501.2 L568.7 502.9 M576.7 489.7 L575.5 491.7 L574.3 493.7 L573.4 495.2 M585.3 475.7 L584.1 477.7 L582.8 479.7 L581.9 481.2 M592.6 463.9 L591.3 465.9 L590.1 467.9 L589.0 469.6 M600.6 451.0 L599.3 453.0 L598.1 455.0 L597.0 456.8 M608.6 438.2 L607.4 440.2 L606.1 442.2 L605.0 443.9 M617.2 424.7 L615.9 426.7 L614.6 428.7 L613.5 430.4 M625.2 412.0 L624.0 414.0 L622.7 416.0 L621.4 418.0 M633.6 399.0 L632.3 401.0 L631.0 403.0 L629.7 405.0 M642.2 385.6 L640.9 387.6 L639.6 389.6 L638.3 391.6 M650.9 372.3 L649.6 374.3 L648.3 376.3 L647.0 378.3 M659.7 358.9 L658.4 360.9 L657.1 362.9 L655.8 364.9 L655.6 365.2 M601.2 501.2 L600.1 502.9 M607.9 489.7 L606.7 491.7 L605.5 493.7 L604.7 495.2 M616.1 475.7 L615.0 477.7 L613.8 479.7 L612.9 481.2 M623.2 463.9 L622.0 465.9 L620.8 467.9 L619.7 469.6 M630.9 451.0 L629.7 453.0 L628.5 455.0 L627.5 456.8 M638.7 438.2 L637.5 440.2 L636.3 442.2 L635.2 443.9 M647.0 424.7 L645.7 426.7 L644.5 428.7 L643.4 430.4 M654.8 412.0 L653.6 414.0 L652.3 416.0 L651.1 418.0 M662.9 399.0 L661.6 401.0 L660.4 403.0 L659.1 405.0 M671.3 385.6 L670.0 387.6 L668.8 389.6 L667.5 391.6 M679.7 372.3 L678.5 374.3 L677.2 376.3 L675.9 378.3 M688.3 358.9 L687.0 360.9 L685.7 362.9 L684.4 364.9 L684.3 365.2 M696.4 346.2 L695.6 347.6 L694.3 349.6 L693.0 351.6 L692.8 351.8 M647.5 463.9 L646.3 465.9 L645.2 467.9 M655.0 451.0 L653.9 453.0 L652.7 455.0 L651.7 456.8 M662.6 438.2 L661.4 440.2 L660.2 442.2 L659.2 443.9 M670.6 424.7 L669.4 426.7 L668.2 428.7 L667.2 430.4 M678.3 412.0 L677.0 414.0 L675.8 416.0 L674.6 418.0 M686.1 399.0 L684.9 401.0 L683.7 403.0 L682.5 405.0 M694.3 385.6 L693.1 387.6 L691.9 389.6 L690.6 391.6 M690.3 424.7 L689.1 426.7 L687.9 428.7 L686.9 430.4 M696.4 414.3 L695.4 416.0 L694.2 418.0"/>
<path stroke="#4b0082" stroke-width="0.90" d="M626.1 501.2 L625.1 502.9 M632.6 489.7 L631.5 491.7 L630.3 493.7 L629.5 495.2 M640.7 475.7 L639.5 477.7 L638.3 479.7 L637.5 481.2 M645.2 467.9 L644.1 469.6 M646.8 501.2 L645.9 502.9 M653.2 489.7 L652.1 491.7 L651.0 493.7 L650.1 495.2 M661.0 475.7 L659.9 477.7 L658.8 479.7 L657.9 481.2 M667.7 463.9 L666.5 465.9 L665.4 467.9 L664.4 469.6 M675.0 451.0 L673.9 453.0 L672.8 455.0 L671.8 456.8 M682.4 438.2 L681.3 440.2 L680.1 442.2 L679.1 443.9 M680.1 501.2 L679.2 502.9 M686.2 489.7 L685.2 491.7 L684.1 493.7 L683.3 495.2 M693.7 475.7 L692.6 477.7 L691.6 479.7 L690.8 481.2 M694.0 501.2 L693.1 502.9"/>
</g>
</g>
<use href="#bg"/><use href="#bg"/><use href="#bg"/>
<g fill="none" shape-rendering="crispEdges">
<path stroke="#4b0082" stroke-width="1" d="M594.1 472.5 H599.4 M590.6 469.5 H599.2 M587.2 466.5 H599.0 M585.8 463.5 H598.7 M584.5 460.5 H598.0 M582.7 456.5 H597.0 M581.3 453.5 H596.3 M579.5 449.5 H595.5 M578.1 446.5 H595.0 M576.3 442.5 H594.4 M574.4 438.5 H593.8 M573.1 435.5 H593.3 M571.2 431.5 H592.7 M569.5 427.5 H591.9 M568.1 423.5 H590.9 M566.7 419.5 H589.9 M565.3 415.5 H588.9 M563.6 410.5 H587.6 M562.2 406.5 H586.6 M560.8 402.5 H585.5 M560.4 397.5 H584.1 M560.3 392.5 H582.7 M560.2 387.5 H581.1 M560.2 382.5 H579.2 M560.1 377.5 H577.4 M560.0 372.5 H575.5 M559.5 367.5 H573.6 M556.3 361.5 H571.0 M553.3 355.5 H568.2 M550.3 349.5 H565.2 M547.3 343.5 H562.2 M543.5 337.5 H559.2 M539.0 330.5 H555.7 M533.6 323.5 H551.2 M527.4 316.5 H546.3 M521.3 309.5 H541.1 M513.8 301.5 H535.1 M506.1 293.5 H529.2 M498.4 285.5 H523.3 M490.2 276.5 H516.1 M480.1 266.5 H507.0 M470.1 257.5 H498.8 M458.8 246.5 H487.9 M449.3 235.5 H476.8 M441.6 224.5 H464.3 M432.0 211.5 H451.1 M422.7 198.5 H437.1 M415.5 183.5 H421.6"/>
<defs>
<g id="sp">
<path stroke="#4b0082" stroke-width="0.72" d="M381.7 145.4 L413.1 177.2 M446.0 208.4 L460.7 223.1 M475.4 236.0 L495.6 256.2"/>
<path stroke="#4b0082" stroke-width="0.75" d="M413.1 177.2 L435.9 199.3 L446.0 208.4 M495.6 256.2 L504.8 266.3 L514.0 276.4"/>
<path stroke="#4b0082" stroke-width="0.78" d="M323.8 74.6 L356.0 113.2 M460.7 223.1 L475.4 236.0"/>
<path stroke="#4b0082" stroke-width="0.81" d="M356.0 113.2 L381.7 145.4 M514.0 276.4 L520.7 284.7 L533.6 302.2 L544.6 316.9"/>
<path stroke="#4b0082" stroke-width="0.84" d="M544.6 316.9 L552.9 328.9"/>
<path stroke="#4b0082" stroke-width="0.90" d="M560.2 343.6 L566.7 356.4"/>
<path stroke="#4b0082" stroke-width="0.93" d="M552.9 328.9 L560.2 343.6 M566.7 356.4 L572.0 368.4 M598.6 486.6 L619.0 496.0"/>
<path stroke="#4b0082" stroke-width="0.96" d="M572.0 368.4 L580.2 390.5"/>
<path stroke="#4b0082" stroke-width="0.99" d="M580.2 390.5 L585.7 410.7 L590.3 429.1 M593.7 450.7 L596.9 464.5"/>
<path stroke="#4b0082" stroke-width="1.00" d="M590.3 429.1 L593.7 450.7 M596.9 464.5 L597.6 475.5 L598.3 481.7 L598.6 486.6"/>
</g>
<g id="spk">
<path stroke="#4b0082" stroke-width="0.72" d="M412.9 177.0 L413.1 177.2 M446.0 208.4 L453.6 216.0"/>
<path stroke="#4b0082" stroke-width="0.75" d="M413.1 177.2 L435.9 199.3 L446.0 208.4"/>
</g>
<g id="spl">
<path stroke="#4b0082" stroke-width="0.93" d="M598.6 486.6 L619.0 496.0"/>
<path stroke="#4b0082" stroke-width="1.00" d="M598.6 486.0 L598.6 486.6"/>
</g>
<g id="sb">
<path stroke="#0000ff" stroke-width="0.75" d="M406.9 201.4 L427.6 221.3 L446.0 240.6"/>
<path stroke="#0000ff" stroke-width="0.78" d="M446.0 240.6 L480.2 270.0"/>
<path stroke="#0000ff" stroke-width="0.84" d="M480.2 270.0 L488.3 275.5 M491.3 281.0 L506.0 301.3 M535.2 401.5 L553.6 427.2 L564.5 443.1 L572.8 454.8 L581.0 467.2"/>
<path stroke="#0000ff" stroke-width="0.87" d="M506.0 301.3 L521.6 327.0"/>
<path stroke="#0000ff" stroke-width="0.90" d="M488.3 275.5 L491.3 281.0 M581.0 467.2 L589.3 483.8"/>
<path stroke="#0000ff" stroke-width="0.93" d="M372.8 125.2 L382.6 147.2 L393.8 173.1 L406.9 201.4"/>
<path stroke="#0000ff" stroke-width="0.96" d="M354.5 74.6 L364.6 103.1 L372.8 125.2 M589.3 483.8 L593.7 496.2"/>
<path stroke="#0000ff" stroke-width="0.99" d="M521.6 327.0 L525.3 343.6 L530.8 362.0 L532.4 368.4"/>
<path stroke="#0000ff" stroke-width="1.00" d="M532.4 368.4 L535.2 401.5"/>
</g>
<g id="sbk">
<path stroke="#0000ff" stroke-width="0.75" d="M406.9 201.4 L427.6 221.3 L446.0 240.6"/>
<path stroke="#0000ff" stroke-width="0.78" d="M446.0 240.6 L446.5 241.0"/>
</g>
<g id="sr2">
<path stroke="#ff0000" stroke-width="0.72" d="M480.9 267.2 L492.0 278.3"/>
<path stroke="#ff0000" stroke-width="0.75" d="M462.5 250.7 L480.9 267.2 M496.8 283.8 L518.9 306.8 M608.6 485.2 L619.7 495.5"/>
<path stroke="#ff0000" stroke-width="0.78" d="M449.7 236.0 L462.5 250.7 M492.0 278.3 L496.8 283.8 M518.9 306.8 L537.2 327.6 M587.2 466.6 L597.6 475.5 L608.6 485.2"/>
<path stroke="#ff0000" stroke-width="0.81" d="M424.1 201.4 L436.8 217.6"/>
<path stroke="#ff0000" stroke-width="0.84" d="M436.8 217.6 L449.7 236.0"/>
<path stroke="#ff0000" stroke-width="0.87" d="M398.4 150.0 L398.6 150.3 M537.2 327.6 L547.4 343.6"/>
<path stroke="#ff0000" stroke-width="0.90" d="M398.6 150.3 L413.1 178.6 M555.6 360.1 L560.0 368.4"/>
<path stroke="#ff0000" stroke-width="0.93" d="M413.1 178.6 L424.1 201.4 M547.4 343.6 L555.6 360.1 M570.1 429.1 L576.9 443.8 L583.8 459.0 L587.2 466.6"/>
<path stroke="#ff0000" stroke-width="0.96" d="M560.4 401.5 L570.1 429.1"/>
</g>
<g id="srt">
<path stroke="#ff0000" stroke-width="0.87" d="M397.9 149.1 L398.4 150.0"/>
<path stroke="#ff0000" stroke-width="0.99" d="M393.5 125.2 L397.9 149.1"/>
<path stroke="#ff0000" stroke-width="1.00" d="M387.5 75.5 L390.3 97.6 L393.5 125.2"/>
</g>
<g id="srv">
<path stroke="#ff0000" stroke-width="1.00" d="M560.0 368.4 L560.4 401.5"/>
</g>
</defs>
<g>
<use href="#sp" transform="translate(-0.5,0.0)"/><use href="#sp" transform="translate(-0.5,0.0)"/><use href="#sp" transform="translate(-0.5,0.0)"/><use href="#sp" transform="translate(0.5,0.0)"/><use href="#sp" transform="translate(0.5,0.0)"/><use href="#sp" transform="translate(0.5,0.0)"/>
<use href="#spk" transform="translate(1.5,0.0)"/><use href="#spk" transform="translate(1.5,0.0)"/><use href="#spk" transform="translate(1.5,0.0)"/>
<use href="#spl" transform="translate(0.0,0.8)"/><use href="#spl" transform="translate(0.0,0.8)"/><use href="#spl" transform="translate(0.0,0.8)"/>
<path stroke="#4b0082" stroke-width="3" d="M598.3 475.5 V482"/>
<use href="#sb" transform="translate(-0.5,0.0)"/><use href="#sb" transform="translate(-0.5,0.0)"/><use href="#sb" transform="translate(-0.5,0.0)"/><use href="#sb" transform="translate(0.5,0.0)"/><use href="#sb" transform="translate(0.5,0.0)"/><use href="#sb" transform="translate(0.5,0.0)"/>
<use href="#sbk" transform="translate(1.5,0.0)"/><use href="#sbk" transform="translate(1.5,0.0)"/><use href="#sbk" transform="translate(1.5,0.0)"/>
<use href="#sr2" transform="translate(-0.5,0.0)"/><use href="#sr2" transform="translate(-0.5,0.0)"/><use href="#sr2" transform="translate(-0.5,0.0)"/><use href="#sr2" transform="translate(0.5,0.0)"/><use href="#sr2" transform="translate(0.5,0.0)"/><use href="#sr2" transform="translate(0.5,0.0)"/>
<use href="#srv" transform="translate(0.0,0.0)"/><use href="#srv" transform="translate(0.0,0.0)"/><use href="#srv" transform="translate(0.0,0.0)"/>
<use href="#srt" transform="translate(0.0,0.0)"/><use href="#srt" transform="translate(0.0,0.0)"/><use href="#srt" transform="translate(0.0,0.0)"/><use href="#srt" transform="translate(0.0,1.0)"/><use href="#srt" transform="translate(0.0,1.0)"/><use href="#srt" transform="translate(0.0,1.0)"/>
</g>
<rect x="386" y="75" width="3" height="3" fill="#ff0000"/>
<rect x="618.5" y="494" width="3" height="3" fill="#ff0000"/>
<path stroke="#0000ff" stroke-width="1" d="M592 496.5 H596 M594 494.5 V498.5"/>
</g>
<g font-family='"Liberation Sans", sans-serif' stroke="#fff" stroke-width="0.35" opacity="0.999">
<text y="51.8" font-size="16" fill="#000" stroke-width="0.20"><tspan x="85.3" textLength="34.8" lengthAdjust="spacingAndGlyphs">AIRS</tspan> <tspan x="127.5" textLength="48.2" lengthAdjust="spacingAndGlyphs">SkewT</tspan> <tspan x="183.4" textLength="64.9" lengthAdjust="spacingAndGlyphs">Diagram</tspan> <tspan x="256.6" textLength="39.8" lengthAdjust="spacingAndGlyphs">2010</tspan><tspan x="296.5" dy="-1.4" textLength="14.5" lengthAdjust="spacingAndGlyphs">-</tspan><tspan x="310.9" dy="1.4" textLength="20.9" lengthAdjust="spacingAndGlyphs">09</tspan><tspan x="334.4" dy="-1.4" textLength="10.7" lengthAdjust="spacingAndGlyphs">-</tspan><tspan x="345.0" dy="1.4" textLength="124.6" lengthAdjust="spacingAndGlyphs">03/16:47:51.13</tspan> <tspan x="479.1" textLength="69.4" lengthAdjust="spacingAndGlyphs">(Lat/Lon</tspan> <tspan x="556.7" textLength="91.0" lengthAdjust="spacingAndGlyphs">6.77/129.04</tspan> <tspan x="657.3" textLength="43.6" lengthAdjust="spacingAndGlyphs">deg)</tspan></text>
<text y="66.0" font-size="11.0" fill="#ff0000" stroke="#ff0000" stroke-width="0.12"><tspan x="113.7" dy="-1.0" textLength="7.5" lengthAdjust="spacingAndGlyphs">-</tspan><tspan x="121.0" dy="1.0" textLength="21.9" lengthAdjust="spacingAndGlyphs">120</tspan></text>
<text y="66.0" font-size="11.0" fill="#ff0000" stroke="#ff0000" stroke-width="0.12"><tspan x="181.5" dy="-1.0" textLength="7.5" lengthAdjust="spacingAndGlyphs">-</tspan><tspan x="188.7" dy="1.0" textLength="21.9" lengthAdjust="spacingAndGlyphs">110</tspan></text>
<text y="66.0" font-size="11.0" fill="#ff0000" stroke="#ff0000" stroke-width="0.12"><tspan x="249.2" dy="-1.0" textLength="7.5" lengthAdjust="spacingAndGlyphs">-</tspan><tspan x="256.5" dy="1.0" textLength="21.9" lengthAdjust="spacingAndGlyphs">100</tspan></text>
<text y="66.0" font-size="11.0" fill="#ff0000" stroke="#ff0000" stroke-width="0.12"><tspan x="324.2" dy="-1.0" textLength="7.5" lengthAdjust="spacingAndGlyphs">-</tspan><tspan x="331.4" dy="1.0" textLength="14.7" lengthAdjust="spacingAndGlyphs">90</tspan></text>
<text y="66.0" font-size="11.0" fill="#ff0000" stroke="#ff0000" stroke-width="0.12"><tspan x="391.9" dy="-1.0" textLength="7.5" lengthAdjust="spacingAndGlyphs">-</tspan><tspan x="399.2" dy="1.0" textLength="14.7" lengthAdjust="spacingAndGlyphs">80</tspan></text>
<text y="66.0" font-size="11.0" fill="#ff0000" stroke="#ff0000" stroke-width="0.12"><tspan x="459.7" dy="-1.0" textLength="7.5" lengthAdjust="spacingAndGlyphs">-</tspan><tspan x="466.9" dy="1.0" textLength="14.7" lengthAdjust="spacingAndGlyphs">70</tspan></text>
<text y="66.0" font-size="11.0" fill="#ff0000" stroke="#ff0000" stroke-width="0.12"><tspan x="527.4" dy="-1.0" textLength="7.5" lengthAdjust="spacingAndGlyphs">-</tspan><tspan x="534.7" dy="1.0" textLength="14.7" lengthAdjust="spacingAndGlyphs">60</tspan></text>
<text y="66.0" font-size="11.0" fill="#ff0000" stroke="#ff0000" stroke-width="0.12"><tspan x="595.2" dy="-1.0" textLength="7.5" lengthAdjust="spacingAndGlyphs">-</tspan><tspan x="602.4" dy="1.0" textLength="14.7" lengthAdjust="spacingAndGlyphs">50</tspan></text>
<text y="66.0" font-size="11.0" fill="#ff0000" stroke="#ff0000" stroke-width="0.12"><tspan x="662.9" dy="-1.0" textLength="7.5" lengthAdjust="spacingAndGlyphs">-</tspan><tspan x="670.2" dy="1.0" textLength="14.7" lengthAdjust="spacingAndGlyphs">40</tspan></text>
<text y="517.0" font-size="11.0" fill="#ff0000" stroke="#ff0000" stroke-width="0.12"><tspan x="87.7" dy="-1.0" textLength="7.5" lengthAdjust="spacingAndGlyphs">-</tspan><tspan x="95.0" dy="1.0" textLength="14.6" lengthAdjust="spacingAndGlyphs">50</tspan></text>
<text y="517.0" font-size="11.0" fill="#ff0000" stroke="#ff0000" stroke-width="0.12"><tspan x="155.4" dy="-1.0" textLength="7.5" lengthAdjust="spacingAndGlyphs">-</tspan><tspan x="162.8" dy="1.0" textLength="14.6" lengthAdjust="spacingAndGlyphs">40</tspan></text>
<text y="517.0" font-size="11.0" fill="#ff0000" stroke="#ff0000" stroke-width="0.12"><tspan x="223.2" dy="-1.0" textLength="7.5" lengthAdjust="spacingAndGlyphs">-</tspan><tspan x="230.5" dy="1.0" textLength="14.6" lengthAdjust="spacingAndGlyphs">30</tspan></text>
<text y="517.0" font-size="11.0" fill="#ff0000" stroke="#ff0000" stroke-width="0.12"><tspan x="290.9" dy="-1.0" textLength="7.5" lengthAdjust="spacingAndGlyphs">-</tspan><tspan x="298.3" dy="1.0" textLength="14.6" lengthAdjust="spacingAndGlyphs">20</tspan></text>
<text y="517.0" font-size="11.0" fill="#ff0000" stroke="#ff0000" stroke-width="0.12"><tspan x="358.7" dy="-1.0" textLength="7.5" lengthAdjust="spacingAndGlyphs">-</tspan><tspan x="366.0" dy="1.0" textLength="14.6" lengthAdjust="spacingAndGlyphs">10</tspan></text>
<text x="433.7" y="517.0" font-size="11.0" fill="#ff0000" stroke="#ff0000" stroke-width="0.12" textLength="7.1" lengthAdjust="spacingAndGlyphs" >0</text>
<text x="498.0" y="517.0" font-size="11.0" fill="#ff0000" stroke="#ff0000" stroke-width="0.12" textLength="13.9" lengthAdjust="spacingAndGlyphs" >10</text>
<text x="565.8" y="517.0" font-size="11.0" fill="#ff0000" stroke="#ff0000" stroke-width="0.12" textLength="13.9" lengthAdjust="spacingAndGlyphs" >20</text>
<text x="633.5" y="517.0" font-size="11.0" fill="#ff0000" stroke="#ff0000" stroke-width="0.12" textLength="13.9" lengthAdjust="spacingAndGlyphs" >30</text>
<text x="676.7" y="517.0" font-size="11.0" fill="#ff0000" stroke="#ff0000" stroke-width="0.12" textLength="22.1" lengthAdjust="spacingAndGlyphs" >T(C)</text>
<text x="48.0" y="75.0" font-size="11.0" fill="#000000" stroke="#000000" stroke-width="0.12" textLength="19.9" lengthAdjust="spacingAndGlyphs" >100</text>
<text x="48.0" y="202.0" font-size="11.0" fill="#000000" stroke="#000000" stroke-width="0.12" textLength="19.9" lengthAdjust="spacingAndGlyphs" >200</text>
<text x="48.0" y="276.0" font-size="11.0" fill="#000000" stroke="#000000" stroke-width="0.12" textLength="19.9" lengthAdjust="spacingAndGlyphs" >300</text>
<text x="48.0" y="328.0" font-size="11.0" fill="#000000" stroke="#000000" stroke-width="0.12" textLength="19.9" lengthAdjust="spacingAndGlyphs" >400</text>
<text x="48.0" y="369.0" font-size="11.0" fill="#000000" stroke="#000000" stroke-width="0.12" textLength="19.9" lengthAdjust="spacingAndGlyphs" >500</text>
<text x="48.0" y="402.0" font-size="11.0" fill="#000000" stroke="#000000" stroke-width="0.12" textLength="19.9" lengthAdjust="spacingAndGlyphs" >600</text>
<text x="48.0" y="430.0" font-size="11.0" fill="#000000" stroke="#000000" stroke-width="0.12" textLength="19.9" lengthAdjust="spacingAndGlyphs" >700</text>
<text x="48.0" y="454.0" font-size="11.0" fill="#000000" stroke="#000000" stroke-width="0.12" textLength="19.9" lengthAdjust="spacingAndGlyphs" >800</text>
<text x="48.0" y="476.0" font-size="11.0" fill="#000000" stroke="#000000" stroke-width="0.12" textLength="19.9" lengthAdjust="spacingAndGlyphs" >900</text>
<text x="41.2" y="495.0" font-size="11.0" fill="#000000" stroke="#000000" stroke-width="0.12" textLength="26.7" lengthAdjust="spacingAndGlyphs" >1000</text>
<text x="81.3" y="283.2" font-size="13.0" fill="#000000" stroke-width="0.00" text-anchor="middle" textLength="112.5" lengthAdjust="spacingAndGlyphs" transform="rotate(-90.0 81.3 283.2)" >PRESSURE (MB)</text>
<text y="116.7" font-size="19.0" fill="#ff0000" stroke-width="0.30"><tspan x="116.1" textLength="74.8" lengthAdjust="spacingAndGlyphs">Ambient</tspan> <tspan x="198.9" textLength="27.1" lengthAdjust="spacingAndGlyphs">Air</tspan> <tspan x="234.1" textLength="46.8" lengthAdjust="spacingAndGlyphs">Temp</tspan></text>
<text y="137.8" font-size="19.0" fill="#0000ff" stroke-width="0.30"><tspan x="117.2" textLength="36.4" lengthAdjust="spacingAndGlyphs">Dew</tspan> <tspan x="163.7" textLength="46.4" lengthAdjust="spacingAndGlyphs">Point</tspan> <tspan x="218.6" textLength="48.8" lengthAdjust="spacingAndGlyphs">Temp</tspan></text>
<text y="159.1" font-size="19.0" fill="#4b0082" stroke-width="0.30"><tspan x="116.1" textLength="23.1" lengthAdjust="spacingAndGlyphs">Air</tspan> <tspan x="150.3" textLength="58.1" lengthAdjust="spacingAndGlyphs">Parcel</tspan> <tspan x="218.6" textLength="46.7" lengthAdjust="spacingAndGlyphs">Temp</tspan></text>
<text x="700.2" y="84.4" font-size="13.5" fill="#000000" stroke-width="0.00" textLength="46.0" lengthAdjust="spacingAndGlyphs" >TP:100</text>
<text x="699.9" y="100.1" font-size="13.5" fill="#000000" stroke-width="0.00" textLength="51.6" lengthAdjust="spacingAndGlyphs" >MW:N/A</text>
<text x="699.9" y="115.8" font-size="13.5" fill="#000000" stroke-width="0.00" textLength="54.3" lengthAdjust="spacingAndGlyphs" >FRZ:568</text>
<text x="699.0" y="131.5" font-size="13.5" fill="#000000" stroke-width="0.00" textLength="57.9" lengthAdjust="spacingAndGlyphs" >WB0:566</text>
<text x="698.5" y="147.2" font-size="13.5" fill="#000000" stroke-width="0.00" textLength="61.6" lengthAdjust="spacingAndGlyphs" >PW:31.59</text>
<text x="699.9" y="162.9" font-size="13.5" fill="#000000" stroke-width="0.00" textLength="52.5" lengthAdjust="spacingAndGlyphs" >RH:84.0</text>
<text x="699.0" y="178.6" font-size="13.5" fill="#000000" stroke-width="0.00" textLength="65.9" lengthAdjust="spacingAndGlyphs" >MAXT:31.3</text>
<text x="699.9" y="194.3" font-size="13.5" fill="#000000" stroke-width="0.00" textLength="54.3" lengthAdjust="spacingAndGlyphs" >TH:5463</text>
<text x="700.2" y="210.0" font-size="13.5" fill="#000000" stroke-width="0.00" textLength="49.6" lengthAdjust="spacingAndGlyphs" >L57:4.8</text>
<text x="700.2" y="225.7" font-size="13.5" fill="#000000" stroke-width="0.00" textLength="52.2" lengthAdjust="spacingAndGlyphs" >LCL:954</text>
<text y="241.4" font-size="13.5" fill="#000000" stroke-width="0.00"><tspan x="700.8" textLength="14.1" lengthAdjust="spacingAndGlyphs">LI:</tspan><tspan x="715.6" dy="-1.2" textLength="9.5" lengthAdjust="spacingAndGlyphs">-</tspan><tspan x="727.6" dy="1.2" textLength="20.3" lengthAdjust="spacingAndGlyphs">1.7</tspan></text>
<text x="700.8" y="257.1" font-size="13.5" fill="#000000" stroke-width="0.00" textLength="37.3" lengthAdjust="spacingAndGlyphs" >SI:0.9</text>
<text x="699.9" y="272.8" font-size="13.5" fill="#000000" stroke-width="0.00" textLength="48.0" lengthAdjust="spacingAndGlyphs" >TT:41.3</text>
<text x="700.8" y="288.5" font-size="13.5" fill="#000000" stroke-width="0.00" textLength="42.1" lengthAdjust="spacingAndGlyphs" >KI:307</text>
<text x="699.9" y="304.2" font-size="13.5" fill="#000000" stroke-width="0.00" textLength="49.8" lengthAdjust="spacingAndGlyphs" >SW:N/A</text>
<text x="701.3" y="319.9" font-size="13.5" fill="#000000" stroke-width="0.00" textLength="36.8" lengthAdjust="spacingAndGlyphs" >EI:0.2</text>
<text y="335.6" font-size="13.5" fill="#000000" stroke-width="0.00"><tspan x="699.0" dy="-1.2" textLength="9.2" lengthAdjust="spacingAndGlyphs">-</tspan><tspan x="708.8" dy="1.2" textLength="49.9" lengthAdjust="spacingAndGlyphs">PARCEL</tspan><tspan x="759.0" dy="-1.2" textLength="9.0" lengthAdjust="spacingAndGlyphs">-</tspan></text>
<text x="698.1" y="351.3" font-size="13.5" fill="#000000" stroke-width="0.00" textLength="70.9" lengthAdjust="spacingAndGlyphs" >CAPE:1119</text>
<text x="699.9" y="367.0" font-size="13.5" fill="#000000" stroke-width="0.00" textLength="52.5" lengthAdjust="spacingAndGlyphs" >CINH:23</text>
<text x="700.2" y="382.7" font-size="13.5" fill="#000000" stroke-width="0.00" textLength="52.2" lengthAdjust="spacingAndGlyphs" >LCL:954</text>
<text x="699.9" y="398.4" font-size="13.5" fill="#000000" stroke-width="0.00" textLength="51.3" lengthAdjust="spacingAndGlyphs" >CAP:0.0</text>
<text x="700.2" y="414.1" font-size="13.5" fill="#000000" stroke-width="0.00" textLength="52.2" lengthAdjust="spacingAndGlyphs" >LFC:901</text>
<text x="700.8" y="429.8" font-size="13.5" fill="#000000" stroke-width="0.00" textLength="44.5" lengthAdjust="spacingAndGlyphs" >EL:174</text>
<text x="699.9" y="445.5" font-size="13.5" fill="#000000" stroke-width="0.00" textLength="53.8" lengthAdjust="spacingAndGlyphs" >MPL:101</text>
<text y="461.2" font-size="13.5" fill="#000000" stroke-width="0.00"><tspan x="700.7" dy="-1.2" textLength="9.2" lengthAdjust="spacingAndGlyphs">-</tspan><tspan x="710.6" dy="1.2" textLength="32.9" lengthAdjust="spacingAndGlyphs">WIND</tspan><tspan x="743.8" dy="-1.2" textLength="8.6" lengthAdjust="spacingAndGlyphs">-</tspan></text>
<text x="702.6" y="476.9" font-size="13.5" fill="#000000" stroke-width="0.00" textLength="26.1" lengthAdjust="spacingAndGlyphs" >NOT</text>
<text x="701.3" y="492.6" font-size="13.5" fill="#000000" stroke-width="0.00" textLength="34.1" lengthAdjust="spacingAndGlyphs" >AVAIL</text>
<text x="142.0" y="527.3" font-size="11" fill="#4b0082" stroke="#4b0082" stroke-width="0.12" text-anchor="middle" transform="rotate(-45 142.0 523.3)">0.1</text>
<text x="189.0" y="527.3" font-size="11" fill="#4b0082" stroke="#4b0082" stroke-width="0.12" text-anchor="middle" transform="rotate(-45 189.0 523.3)">0.2</text>
<text x="254.0" y="527.3" font-size="11" fill="#4b0082" stroke="#4b0082" stroke-width="0.12" text-anchor="middle" transform="rotate(-45 254.0 523.3)">0.5</text>
<text x="306.9" y="527.3" font-size="11" fill="#4b0082" stroke="#4b0082" stroke-width="0.12" text-anchor="middle" transform="rotate(-45 306.9 523.3)">1</text>
<text x="341.4" y="527.3" font-size="11" fill="#4b0082" stroke="#4b0082" stroke-width="0.12" text-anchor="middle" transform="rotate(-45 341.4 523.3)">1.5</text>
<text x="364.4" y="527.3" font-size="11" fill="#4b0082" stroke="#4b0082" stroke-width="0.12" text-anchor="middle" transform="rotate(-45 364.4 523.3)">2</text>
<text x="400.0" y="527.3" font-size="11" fill="#4b0082" stroke="#4b0082" stroke-width="0.12" text-anchor="middle" transform="rotate(-45 400.0 523.3)">3</text>
<text x="428.3" y="527.3" font-size="11" fill="#4b0082" stroke="#4b0082" stroke-width="0.12" text-anchor="middle" transform="rotate(-45 428.3 523.3)">4</text>
<text x="465.6" y="527.3" font-size="11" fill="#4b0082" stroke="#4b0082" stroke-width="0.12" text-anchor="middle" transform="rotate(-45 465.6 523.3)">6</text>
<text x="493.6" y="527.3" font-size="11" fill="#4b0082" stroke="#4b0082" stroke-width="0.12" text-anchor="middle" transform="rotate(-45 493.6 523.3)">8</text>
<text x="516.3" y="527.3" font-size="11" fill="#4b0082" stroke="#4b0082" stroke-width="0.12" text-anchor="middle" transform="rotate(-45 516.3 523.3)">10</text>
<text x="535.9" y="527.3" font-size="11" fill="#4b0082" stroke="#4b0082" stroke-width="0.12" text-anchor="middle" transform="rotate(-45 535.9 523.3)">12</text>
<text x="559.3" y="527.3" font-size="11" fill="#4b0082" stroke="#4b0082" stroke-width="0.12" text-anchor="middle" transform="rotate(-45 559.3 523.3)">15</text>
<text x="589.6" y="527.3" font-size="11" fill="#4b0082" stroke="#4b0082" stroke-width="0.12" text-anchor="middle" transform="rotate(-45 589.6 523.3)">20</text>
<text x="614.2" y="527.3" font-size="11" fill="#4b0082" stroke="#4b0082" stroke-width="0.12" text-anchor="middle" transform="rotate(-45 614.2 523.3)">25</text>
<text x="634.5" y="527.3" font-size="11" fill="#4b0082" stroke="#4b0082" stroke-width="0.12" text-anchor="middle" transform="rotate(-45 634.5 523.3)">30</text>
<text x="668.5" y="526.8" font-size="11" fill="#4b0082" stroke="#4b0082" stroke-width="0.12" text-anchor="middle" transform="rotate(-45 668.5 522.8)">40</text>
<text x="668.5" y="526.8" font-size="11" fill="#4b0082" stroke="#4b0082" stroke-width="0.12" text-anchor="middle" transform="rotate(-45 668.5 522.8)">45</text>
<text x="668.5" y="526.8" font-size="11" fill="#4b0082" stroke="#4b0082" stroke-width="0.12" text-anchor="middle" transform="rotate(-45 668.5 522.8)">50</text>
<text x="673.5" y="526.3" font-size="11.0" fill="#4b0082" stroke="#4b0082" stroke-width="0.12" textLength="34.9" lengthAdjust="spacingAndGlyphs" >(g/kg)</text>
</g>
</svg>
</body></html>
